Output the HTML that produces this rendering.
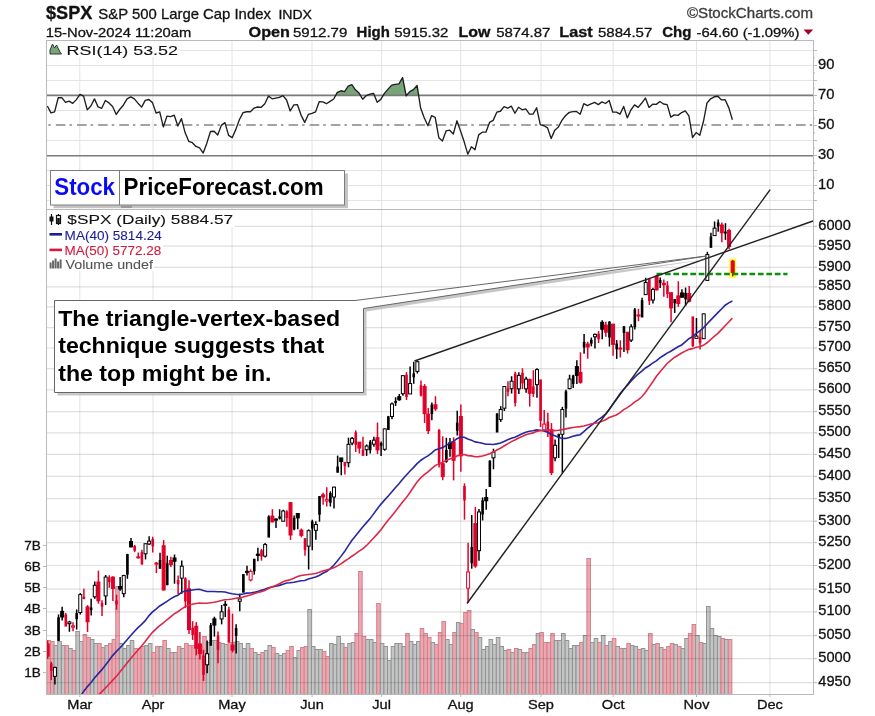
<!DOCTYPE html><html><head><meta charset="utf-8"><style>html,body{margin:0;padding:0;background:#fff;}svg{display:block;will-change:transform;}text{font-family:"Liberation Sans",sans-serif;stroke:currentColor;stroke-width:0.3px;paint-order:stroke;}</style></head><body>
<svg width="875" height="716" viewBox="0 0 875 716">
<rect x="0" y="0" width="875" height="716" fill="#ffffff"/>
<line x1="46" y1="200.5" x2="813" y2="200.5" stroke="#e4e4e4" stroke-width="1"/>
<line x1="46" y1="185.5" x2="813" y2="185.5" stroke="#e4e4e4" stroke-width="1"/>
<line x1="46" y1="170.5" x2="813" y2="170.5" stroke="#e4e4e4" stroke-width="1"/>
<line x1="46" y1="140.5" x2="813" y2="140.5" stroke="#e4e4e4" stroke-width="1"/>
<line x1="46" y1="110.5" x2="813" y2="110.5" stroke="#e4e4e4" stroke-width="1"/>
<line x1="46" y1="80.5" x2="813" y2="80.5" stroke="#e4e4e4" stroke-width="1"/>
<line x1="46" y1="65.5" x2="813" y2="65.5" stroke="#e4e4e4" stroke-width="1"/>
<line x1="46" y1="50.5" x2="813" y2="50.5" stroke="#e4e4e4" stroke-width="1"/>
<line x1="79.8" y1="40" x2="79.8" y2="209" stroke="#e4e4e4" stroke-width="1"/>
<line x1="79.8" y1="209" x2="79.8" y2="694" stroke="#e4e4e4" stroke-width="1"/>
<line x1="153" y1="40" x2="153" y2="209" stroke="#e4e4e4" stroke-width="1"/>
<line x1="153" y1="209" x2="153" y2="694" stroke="#e4e4e4" stroke-width="1"/>
<line x1="232" y1="40" x2="232" y2="209" stroke="#e4e4e4" stroke-width="1"/>
<line x1="232" y1="209" x2="232" y2="694" stroke="#e4e4e4" stroke-width="1"/>
<line x1="312" y1="40" x2="312" y2="209" stroke="#e4e4e4" stroke-width="1"/>
<line x1="312" y1="209" x2="312" y2="694" stroke="#e4e4e4" stroke-width="1"/>
<line x1="381.6" y1="40" x2="381.6" y2="209" stroke="#e4e4e4" stroke-width="1"/>
<line x1="381.6" y1="209" x2="381.6" y2="694" stroke="#e4e4e4" stroke-width="1"/>
<line x1="460.7" y1="40" x2="460.7" y2="209" stroke="#e4e4e4" stroke-width="1"/>
<line x1="460.7" y1="209" x2="460.7" y2="694" stroke="#e4e4e4" stroke-width="1"/>
<line x1="541" y1="40" x2="541" y2="209" stroke="#e4e4e4" stroke-width="1"/>
<line x1="541" y1="209" x2="541" y2="694" stroke="#e4e4e4" stroke-width="1"/>
<line x1="613.2" y1="40" x2="613.2" y2="209" stroke="#e4e4e4" stroke-width="1"/>
<line x1="613.2" y1="209" x2="613.2" y2="694" stroke="#e4e4e4" stroke-width="1"/>
<line x1="696.5" y1="40" x2="696.5" y2="209" stroke="#e4e4e4" stroke-width="1"/>
<line x1="696.5" y1="209" x2="696.5" y2="694" stroke="#e4e4e4" stroke-width="1"/>
<line x1="769.9" y1="40" x2="769.9" y2="209" stroke="#e4e4e4" stroke-width="1"/>
<line x1="769.9" y1="209" x2="769.9" y2="694" stroke="#e4e4e4" stroke-width="1"/>
<clipPath id="c70"><rect x="46" y="40" width="767" height="55"/></clipPath>
<polygon clip-path="url(#c70)" points="47.36,105.96 50.98,112.89 54.61,111.86 58.23,97.79 61.86,97.59 65.48,102.29 69.11,101.16 72.73,103.36 76.36,99.62 79.98,94.45 83.6,96.2 87.23,109.91 90.85,105.94 94.48,98.9 98.1,106.97 101.73,108.32 105.35,100.48 108.98,102.92 112.6,106.59 116.23,114.45 119.85,109.25 123.47,104.96 127.1,98.91 130.72,96.87 134.35,98.85 137.97,103.18 141.6,107.1 145.22,100.35 148.85,99.53 152.47,102.63 156.09,112.98 159.72,111.92 163.34,126.92 166.97,116.14 170.59,116.57 174.22,115.18 177.84,126.05 181.47,118.66 185.09,132.56 188.72,141.35 192.34,142.71 195.96,146.46 199.59,147.85 203.21,153.06 206.84,143.15 210.46,131.49 214.09,131.29 217.71,134.94 221.34,125.37 224.96,122.6 228.58,135.32 232.21,137.68 235.83,129.39 239.46,119.56 243.08,112.6 246.71,111.73 250.33,111.73 253.96,108.16 257.58,107 261.21,107.3 264.83,103.67 268.45,96.04 272.08,98.82 275.7,98.05 279.33,97.41 282.95,95.63 286.58,100.02 290.2,110.98 293.83,104.88 297.45,104.67 301.07,115.08 304.7,122.42 308.32,114.41 311.95,113.35 315.57,111.88 319.2,101.65 322.82,101.95 326.45,103.7 330.07,101.42 333.7,99.05 337.32,92.43 340.94,90.78 344.57,91.54 348.19,86.23 351.82,84.65 355.44,89.85 359.07,93.05 362.69,99.23 366.32,95.6 369.94,94.19 373.56,93.36 377.19,102.3 380.81,99.39 384.44,93.36 388.06,89.11 391.69,85.12 395.31,84.41 398.94,83.87 402.56,77.5 406.19,95.81 409.81,91.63 413.43,89.62 417.06,85.45 420.68,108.27 424.31,118.01 427.93,125.71 431.56,115.73 435.18,117.44 438.81,137.65 442.43,141.02 446.06,130.91 449.68,130.2 453.3,134.01 456.93,120.81 460.55,131.08 464.18,141.84 467.8,154.17 471.43,146.76 475.05,149.67 478.68,134.91 482.3,132.19 485.92,132.16 489.55,122.42 493.17,120.35 496.8,112.22 500.42,111.27 504.05,106.68 507.67,108.21 511.3,106.1 514.92,113.25 518.54,107.27 522.17,109.82 525.79,108.94 529.42,114.05 533.04,114.09 536.67,107.77 540.29,124.69 543.92,125.77 547.54,127.88 551.17,138.59 554.79,130.14 558.41,127.05 562.04,120.08 565.66,115.54 569.29,112.38 572.91,111.63 576.54,111.46 580.16,114.21 583.79,103.72 587.41,105.65 591.03,103.96 594.66,102.43 598.28,104.6 601.91,101.91 605.53,103.5 609.16,100.52 612.78,112.18 616.41,112.07 620.03,114.15 623.66,106.48 627.28,117.88 630.9,109.99 634.53,104.9 638.15,107.38 641.78,103.04 645.4,98.02 649.03,107.41 652.65,104.13 656.28,104.35 659.9,101.45 663.52,103.99 667.15,104.68 670.77,117.05 674.4,114.95 678.02,115.35 681.65,112.55 685.27,110.84 688.9,115.92 692.52,137.48 696.15,132.56 699.77,135.27 703.39,121.78 707.02,102.95 710.64,98.8 714.27,96.79 717.89,96.26 721.52,99.92 725.14,99.76 728.77,107.63 732.39,119.72 732.39,95 47.36,95" fill="#78a578"/>
<line x1="46" y1="95.4" x2="813" y2="95.4" stroke="#7a7a7a" stroke-width="1.6"/>
<line x1="46" y1="155.8" x2="813" y2="155.8" stroke="#7a7a7a" stroke-width="1.6"/>
<line x1="46" y1="125" x2="813" y2="125" stroke="#858585" stroke-width="1.7" stroke-dasharray="9.6,4,2.5,5.05" stroke-dashoffset="11.3"/>
<polyline points="47.36,105.96 50.98,112.89 54.61,111.86 58.23,97.79 61.86,97.59 65.48,102.29 69.11,101.16 72.73,103.36 76.36,99.62 79.98,94.45 83.6,96.2 87.23,109.91 90.85,105.94 94.48,98.9 98.1,106.97 101.73,108.32 105.35,100.48 108.98,102.92 112.6,106.59 116.23,114.45 119.85,109.25 123.47,104.96 127.1,98.91 130.72,96.87 134.35,98.85 137.97,103.18 141.6,107.1 145.22,100.35 148.85,99.53 152.47,102.63 156.09,112.98 159.72,111.92 163.34,126.92 166.97,116.14 170.59,116.57 174.22,115.18 177.84,126.05 181.47,118.66 185.09,132.56 188.72,141.35 192.34,142.71 195.96,146.46 199.59,147.85 203.21,153.06 206.84,143.15 210.46,131.49 214.09,131.29 217.71,134.94 221.34,125.37 224.96,122.6 228.58,135.32 232.21,137.68 235.83,129.39 239.46,119.56 243.08,112.6 246.71,111.73 250.33,111.73 253.96,108.16 257.58,107 261.21,107.3 264.83,103.67 268.45,96.04 272.08,98.82 275.7,98.05 279.33,97.41 282.95,95.63 286.58,100.02 290.2,110.98 293.83,104.88 297.45,104.67 301.07,115.08 304.7,122.42 308.32,114.41 311.95,113.35 315.57,111.88 319.2,101.65 322.82,101.95 326.45,103.7 330.07,101.42 333.7,99.05 337.32,92.43 340.94,90.78 344.57,91.54 348.19,86.23 351.82,84.65 355.44,89.85 359.07,93.05 362.69,99.23 366.32,95.6 369.94,94.19 373.56,93.36 377.19,102.3 380.81,99.39 384.44,93.36 388.06,89.11 391.69,85.12 395.31,84.41 398.94,83.87 402.56,77.5 406.19,95.81 409.81,91.63 413.43,89.62 417.06,85.45 420.68,108.27 424.31,118.01 427.93,125.71 431.56,115.73 435.18,117.44 438.81,137.65 442.43,141.02 446.06,130.91 449.68,130.2 453.3,134.01 456.93,120.81 460.55,131.08 464.18,141.84 467.8,154.17 471.43,146.76 475.05,149.67 478.68,134.91 482.3,132.19 485.92,132.16 489.55,122.42 493.17,120.35 496.8,112.22 500.42,111.27 504.05,106.68 507.67,108.21 511.3,106.1 514.92,113.25 518.54,107.27 522.17,109.82 525.79,108.94 529.42,114.05 533.04,114.09 536.67,107.77 540.29,124.69 543.92,125.77 547.54,127.88 551.17,138.59 554.79,130.14 558.41,127.05 562.04,120.08 565.66,115.54 569.29,112.38 572.91,111.63 576.54,111.46 580.16,114.21 583.79,103.72 587.41,105.65 591.03,103.96 594.66,102.43 598.28,104.6 601.91,101.91 605.53,103.5 609.16,100.52 612.78,112.18 616.41,112.07 620.03,114.15 623.66,106.48 627.28,117.88 630.9,109.99 634.53,104.9 638.15,107.38 641.78,103.04 645.4,98.02 649.03,107.41 652.65,104.13 656.28,104.35 659.9,101.45 663.52,103.99 667.15,104.68 670.77,117.05 674.4,114.95 678.02,115.35 681.65,112.55 685.27,110.84 688.9,115.92 692.52,137.48 696.15,132.56 699.77,135.27 703.39,121.78 707.02,102.95 710.64,98.8 714.27,96.79 717.89,96.26 721.52,99.92 725.14,99.76 728.77,107.63 732.39,119.72" fill="none" stroke="#1e1e1e" stroke-width="1.35" stroke-linejoin="round"/>
<rect x="46.5" y="40.5" width="767" height="169" fill="none" stroke="#b9b9b9" stroke-width="1"/>
<line x1="813" y1="200.5" x2="817" y2="200.5" stroke="#b9b9b9"/>
<line x1="813" y1="193" x2="815" y2="193" stroke="#b9b9b9"/>
<line x1="813" y1="185.5" x2="817" y2="185.5" stroke="#b9b9b9"/>
<line x1="813" y1="178" x2="815" y2="178" stroke="#b9b9b9"/>
<line x1="813" y1="170.5" x2="817" y2="170.5" stroke="#b9b9b9"/>
<line x1="813" y1="163" x2="815" y2="163" stroke="#b9b9b9"/>
<line x1="813" y1="155.5" x2="817" y2="155.5" stroke="#b9b9b9"/>
<line x1="813" y1="148" x2="815" y2="148" stroke="#b9b9b9"/>
<line x1="813" y1="140.5" x2="817" y2="140.5" stroke="#b9b9b9"/>
<line x1="813" y1="133" x2="815" y2="133" stroke="#b9b9b9"/>
<line x1="813" y1="125.5" x2="817" y2="125.5" stroke="#b9b9b9"/>
<line x1="813" y1="118" x2="815" y2="118" stroke="#b9b9b9"/>
<line x1="813" y1="110.5" x2="817" y2="110.5" stroke="#b9b9b9"/>
<line x1="813" y1="103" x2="815" y2="103" stroke="#b9b9b9"/>
<line x1="813" y1="95.5" x2="817" y2="95.5" stroke="#b9b9b9"/>
<line x1="813" y1="88" x2="815" y2="88" stroke="#b9b9b9"/>
<line x1="813" y1="80.5" x2="817" y2="80.5" stroke="#b9b9b9"/>
<line x1="813" y1="73" x2="815" y2="73" stroke="#b9b9b9"/>
<line x1="813" y1="65.5" x2="817" y2="65.5" stroke="#b9b9b9"/>
<line x1="813" y1="58" x2="815" y2="58" stroke="#b9b9b9"/>
<line x1="813" y1="50.5" x2="817" y2="50.5" stroke="#b9b9b9"/>
<text x="818" y="68.5" font-size="14" fill="#111" color="#111" textLength="16.4" lengthAdjust="spacingAndGlyphs">90</text>
<text x="818" y="98.5" font-size="14" fill="#111" color="#111" textLength="16.4" lengthAdjust="spacingAndGlyphs">70</text>
<text x="818" y="128.5" font-size="14" fill="#111" color="#111" textLength="16.4" lengthAdjust="spacingAndGlyphs">50</text>
<text x="818" y="158.5" font-size="14" fill="#111" color="#111" textLength="16.4" lengthAdjust="spacingAndGlyphs">30</text>
<text x="818" y="188.5" font-size="14" fill="#111" color="#111" textLength="16.4" lengthAdjust="spacingAndGlyphs">10</text>
<clipPath id="cpin"><rect x="47" y="210" width="766" height="484"/></clipPath>
<g clip-path="url(#cpin)">
<rect x="46.86" y="640.5" width="3.6" height="54" fill="#eca8b0" stroke="#d6808e" stroke-width="1"/>
<rect x="50.48" y="641.5" width="3.6" height="53" fill="#eca8b0" stroke="#d6808e" stroke-width="1"/>
<rect x="54.11" y="645.5" width="3.6" height="49" fill="#c4c5c5" stroke="#939393" stroke-width="1"/>
<rect x="57.73" y="641.5" width="3.6" height="53" fill="#c4c5c5" stroke="#939393" stroke-width="1"/>
<rect x="61.36" y="645.5" width="3.6" height="49" fill="#c4c5c5" stroke="#939393" stroke-width="1"/>
<rect x="64.98" y="645.5" width="3.6" height="49" fill="#eca8b0" stroke="#d6808e" stroke-width="1"/>
<rect x="68.61" y="648.5" width="3.6" height="46" fill="#c4c5c5" stroke="#939393" stroke-width="1"/>
<rect x="72.23" y="650.5" width="3.6" height="44" fill="#eca8b0" stroke="#d6808e" stroke-width="1"/>
<rect x="75.86" y="631.5" width="3.6" height="63" fill="#c4c5c5" stroke="#939393" stroke-width="1"/>
<rect x="79.48" y="641.5" width="3.6" height="53" fill="#c4c5c5" stroke="#939393" stroke-width="1"/>
<rect x="83.1" y="634.5" width="3.6" height="60" fill="#eca8b0" stroke="#d6808e" stroke-width="1"/>
<rect x="86.73" y="637.5" width="3.6" height="57" fill="#eca8b0" stroke="#d6808e" stroke-width="1"/>
<rect x="90.35" y="639.5" width="3.6" height="55" fill="#c4c5c5" stroke="#939393" stroke-width="1"/>
<rect x="93.98" y="643.5" width="3.6" height="51" fill="#c4c5c5" stroke="#939393" stroke-width="1"/>
<rect x="97.6" y="643.5" width="3.6" height="51" fill="#eca8b0" stroke="#d6808e" stroke-width="1"/>
<rect x="101.23" y="647.5" width="3.6" height="47" fill="#eca8b0" stroke="#d6808e" stroke-width="1"/>
<rect x="104.85" y="645.5" width="3.6" height="49" fill="#c4c5c5" stroke="#939393" stroke-width="1"/>
<rect x="108.48" y="643.5" width="3.6" height="51" fill="#eca8b0" stroke="#d6808e" stroke-width="1"/>
<rect x="112.1" y="639.5" width="3.6" height="55" fill="#eca8b0" stroke="#d6808e" stroke-width="1"/>
<rect x="115.73" y="586.5" width="3.6" height="108" fill="#eca8b0" stroke="#d6808e" stroke-width="1"/>
<rect x="119.35" y="643.5" width="3.6" height="51" fill="#c4c5c5" stroke="#939393" stroke-width="1"/>
<rect x="122.97" y="648.5" width="3.6" height="46" fill="#c4c5c5" stroke="#939393" stroke-width="1"/>
<rect x="126.6" y="645.5" width="3.6" height="49" fill="#c4c5c5" stroke="#939393" stroke-width="1"/>
<rect x="130.22" y="640.5" width="3.6" height="54" fill="#c4c5c5" stroke="#939393" stroke-width="1"/>
<rect x="133.85" y="648.5" width="3.6" height="46" fill="#eca8b0" stroke="#d6808e" stroke-width="1"/>
<rect x="137.47" y="648.5" width="3.6" height="46" fill="#eca8b0" stroke="#d6808e" stroke-width="1"/>
<rect x="141.1" y="646.5" width="3.6" height="48" fill="#eca8b0" stroke="#d6808e" stroke-width="1"/>
<rect x="144.72" y="645.5" width="3.6" height="49" fill="#c4c5c5" stroke="#939393" stroke-width="1"/>
<rect x="148.35" y="643.5" width="3.6" height="51" fill="#c4c5c5" stroke="#939393" stroke-width="1"/>
<rect x="151.97" y="652.5" width="3.6" height="42" fill="#eca8b0" stroke="#d6808e" stroke-width="1"/>
<rect x="155.59" y="646.5" width="3.6" height="48" fill="#eca8b0" stroke="#d6808e" stroke-width="1"/>
<rect x="159.22" y="646.5" width="3.6" height="48" fill="#c4c5c5" stroke="#939393" stroke-width="1"/>
<rect x="162.84" y="640.5" width="3.6" height="54" fill="#eca8b0" stroke="#d6808e" stroke-width="1"/>
<rect x="166.47" y="648.5" width="3.6" height="46" fill="#c4c5c5" stroke="#939393" stroke-width="1"/>
<rect x="170.09" y="652.5" width="3.6" height="42" fill="#eca8b0" stroke="#d6808e" stroke-width="1"/>
<rect x="173.72" y="652.5" width="3.6" height="42" fill="#c4c5c5" stroke="#939393" stroke-width="1"/>
<rect x="177.34" y="646.5" width="3.6" height="48" fill="#eca8b0" stroke="#d6808e" stroke-width="1"/>
<rect x="180.97" y="648.5" width="3.6" height="46" fill="#c4c5c5" stroke="#939393" stroke-width="1"/>
<rect x="184.59" y="643.5" width="3.6" height="51" fill="#eca8b0" stroke="#d6808e" stroke-width="1"/>
<rect x="188.22" y="645.5" width="3.6" height="49" fill="#eca8b0" stroke="#d6808e" stroke-width="1"/>
<rect x="191.84" y="645.5" width="3.6" height="49" fill="#eca8b0" stroke="#d6808e" stroke-width="1"/>
<rect x="195.46" y="645.5" width="3.6" height="49" fill="#eca8b0" stroke="#d6808e" stroke-width="1"/>
<rect x="199.09" y="645.5" width="3.6" height="49" fill="#eca8b0" stroke="#d6808e" stroke-width="1"/>
<rect x="202.71" y="636.5" width="3.6" height="58" fill="#eca8b0" stroke="#d6808e" stroke-width="1"/>
<rect x="206.34" y="642.5" width="3.6" height="52" fill="#c4c5c5" stroke="#939393" stroke-width="1"/>
<rect x="209.96" y="640.5" width="3.6" height="54" fill="#c4c5c5" stroke="#939393" stroke-width="1"/>
<rect x="213.59" y="640.5" width="3.6" height="54" fill="#c4c5c5" stroke="#939393" stroke-width="1"/>
<rect x="217.21" y="642.5" width="3.6" height="52" fill="#eca8b0" stroke="#d6808e" stroke-width="1"/>
<rect x="220.84" y="643.5" width="3.6" height="51" fill="#c4c5c5" stroke="#939393" stroke-width="1"/>
<rect x="224.46" y="644.5" width="3.6" height="50" fill="#c4c5c5" stroke="#939393" stroke-width="1"/>
<rect x="228.08" y="642.5" width="3.6" height="52" fill="#eca8b0" stroke="#d6808e" stroke-width="1"/>
<rect x="231.71" y="642.5" width="3.6" height="52" fill="#eca8b0" stroke="#d6808e" stroke-width="1"/>
<rect x="235.33" y="641.5" width="3.6" height="53" fill="#c4c5c5" stroke="#939393" stroke-width="1"/>
<rect x="238.96" y="643.5" width="3.6" height="51" fill="#c4c5c5" stroke="#939393" stroke-width="1"/>
<rect x="242.58" y="648.5" width="3.6" height="46" fill="#c4c5c5" stroke="#939393" stroke-width="1"/>
<rect x="246.21" y="643.5" width="3.6" height="51" fill="#c4c5c5" stroke="#939393" stroke-width="1"/>
<rect x="249.83" y="648.5" width="3.6" height="46" fill="#eca8b0" stroke="#d6808e" stroke-width="1"/>
<rect x="253.46" y="652.5" width="3.6" height="42" fill="#c4c5c5" stroke="#939393" stroke-width="1"/>
<rect x="257.08" y="654.5" width="3.6" height="40" fill="#c4c5c5" stroke="#939393" stroke-width="1"/>
<rect x="260.71" y="652.5" width="3.6" height="42" fill="#eca8b0" stroke="#d6808e" stroke-width="1"/>
<rect x="264.33" y="650.5" width="3.6" height="44" fill="#c4c5c5" stroke="#939393" stroke-width="1"/>
<rect x="267.95" y="645.5" width="3.6" height="49" fill="#c4c5c5" stroke="#939393" stroke-width="1"/>
<rect x="271.58" y="647.5" width="3.6" height="47" fill="#eca8b0" stroke="#d6808e" stroke-width="1"/>
<rect x="275.2" y="653.5" width="3.6" height="41" fill="#c4c5c5" stroke="#939393" stroke-width="1"/>
<rect x="278.83" y="655.5" width="3.6" height="39" fill="#c4c5c5" stroke="#939393" stroke-width="1"/>
<rect x="282.45" y="653.5" width="3.6" height="41" fill="#c4c5c5" stroke="#939393" stroke-width="1"/>
<rect x="286.08" y="650.5" width="3.6" height="44" fill="#eca8b0" stroke="#d6808e" stroke-width="1"/>
<rect x="289.7" y="646.5" width="3.6" height="48" fill="#eca8b0" stroke="#d6808e" stroke-width="1"/>
<rect x="293.33" y="657.5" width="3.6" height="37" fill="#c4c5c5" stroke="#939393" stroke-width="1"/>
<rect x="296.95" y="650.5" width="3.6" height="44" fill="#c4c5c5" stroke="#939393" stroke-width="1"/>
<rect x="300.57" y="647.5" width="3.6" height="47" fill="#eca8b0" stroke="#d6808e" stroke-width="1"/>
<rect x="304.2" y="646.5" width="3.6" height="48" fill="#eca8b0" stroke="#d6808e" stroke-width="1"/>
<rect x="307.82" y="609.5" width="3.6" height="85" fill="#c4c5c5" stroke="#939393" stroke-width="1"/>
<rect x="311.45" y="646.5" width="3.6" height="48" fill="#c4c5c5" stroke="#939393" stroke-width="1"/>
<rect x="315.07" y="649.5" width="3.6" height="45" fill="#c4c5c5" stroke="#939393" stroke-width="1"/>
<rect x="318.7" y="649.5" width="3.6" height="45" fill="#c4c5c5" stroke="#939393" stroke-width="1"/>
<rect x="322.32" y="651.5" width="3.6" height="43" fill="#eca8b0" stroke="#d6808e" stroke-width="1"/>
<rect x="325.95" y="656.5" width="3.6" height="38" fill="#eca8b0" stroke="#d6808e" stroke-width="1"/>
<rect x="329.57" y="643.5" width="3.6" height="51" fill="#c4c5c5" stroke="#939393" stroke-width="1"/>
<rect x="333.2" y="644.5" width="3.6" height="50" fill="#c4c5c5" stroke="#939393" stroke-width="1"/>
<rect x="336.82" y="636.5" width="3.6" height="58" fill="#c4c5c5" stroke="#939393" stroke-width="1"/>
<rect x="340.44" y="643.5" width="3.6" height="51" fill="#c4c5c5" stroke="#939393" stroke-width="1"/>
<rect x="344.07" y="647.5" width="3.6" height="47" fill="#eca8b0" stroke="#d6808e" stroke-width="1"/>
<rect x="347.69" y="643.5" width="3.6" height="51" fill="#c4c5c5" stroke="#939393" stroke-width="1"/>
<rect x="351.32" y="642.5" width="3.6" height="52" fill="#c4c5c5" stroke="#939393" stroke-width="1"/>
<rect x="354.94" y="633.5" width="3.6" height="61" fill="#eca8b0" stroke="#d6808e" stroke-width="1"/>
<rect x="358.57" y="571.5" width="3.6" height="123" fill="#eca8b0" stroke="#d6808e" stroke-width="1"/>
<rect x="362.19" y="636.5" width="3.6" height="58" fill="#eca8b0" stroke="#d6808e" stroke-width="1"/>
<rect x="365.82" y="639.5" width="3.6" height="55" fill="#c4c5c5" stroke="#939393" stroke-width="1"/>
<rect x="369.44" y="639.5" width="3.6" height="55" fill="#c4c5c5" stroke="#939393" stroke-width="1"/>
<rect x="373.06" y="642.5" width="3.6" height="52" fill="#c4c5c5" stroke="#939393" stroke-width="1"/>
<rect x="376.69" y="603.5" width="3.6" height="91" fill="#eca8b0" stroke="#d6808e" stroke-width="1"/>
<rect x="380.31" y="643.5" width="3.6" height="51" fill="#c4c5c5" stroke="#939393" stroke-width="1"/>
<rect x="383.94" y="646.5" width="3.6" height="48" fill="#c4c5c5" stroke="#939393" stroke-width="1"/>
<rect x="387.56" y="660.5" width="3.6" height="34" fill="#c4c5c5" stroke="#939393" stroke-width="1"/>
<rect x="391.19" y="646.5" width="3.6" height="48" fill="#c4c5c5" stroke="#939393" stroke-width="1"/>
<rect x="394.81" y="643.5" width="3.6" height="51" fill="#c4c5c5" stroke="#939393" stroke-width="1"/>
<rect x="398.44" y="643.5" width="3.6" height="51" fill="#c4c5c5" stroke="#939393" stroke-width="1"/>
<rect x="402.06" y="646.5" width="3.6" height="48" fill="#c4c5c5" stroke="#939393" stroke-width="1"/>
<rect x="405.69" y="633.5" width="3.6" height="61" fill="#eca8b0" stroke="#d6808e" stroke-width="1"/>
<rect x="409.31" y="641.5" width="3.6" height="53" fill="#c4c5c5" stroke="#939393" stroke-width="1"/>
<rect x="412.93" y="644.5" width="3.6" height="50" fill="#c4c5c5" stroke="#939393" stroke-width="1"/>
<rect x="416.56" y="641.5" width="3.6" height="53" fill="#c4c5c5" stroke="#939393" stroke-width="1"/>
<rect x="420.18" y="628.5" width="3.6" height="66" fill="#eca8b0" stroke="#d6808e" stroke-width="1"/>
<rect x="423.81" y="633.5" width="3.6" height="61" fill="#eca8b0" stroke="#d6808e" stroke-width="1"/>
<rect x="427.43" y="637.5" width="3.6" height="57" fill="#eca8b0" stroke="#d6808e" stroke-width="1"/>
<rect x="431.06" y="642.5" width="3.6" height="52" fill="#c4c5c5" stroke="#939393" stroke-width="1"/>
<rect x="434.68" y="644.5" width="3.6" height="50" fill="#eca8b0" stroke="#d6808e" stroke-width="1"/>
<rect x="438.31" y="632.5" width="3.6" height="62" fill="#eca8b0" stroke="#d6808e" stroke-width="1"/>
<rect x="441.93" y="621.5" width="3.6" height="73" fill="#eca8b0" stroke="#d6808e" stroke-width="1"/>
<rect x="445.56" y="639.5" width="3.6" height="55" fill="#c4c5c5" stroke="#939393" stroke-width="1"/>
<rect x="449.18" y="644.5" width="3.6" height="50" fill="#c4c5c5" stroke="#939393" stroke-width="1"/>
<rect x="452.8" y="632.5" width="3.6" height="62" fill="#eca8b0" stroke="#d6808e" stroke-width="1"/>
<rect x="456.43" y="622.5" width="3.6" height="72" fill="#c4c5c5" stroke="#939393" stroke-width="1"/>
<rect x="460.05" y="623.5" width="3.6" height="71" fill="#eca8b0" stroke="#d6808e" stroke-width="1"/>
<rect x="463.68" y="612.5" width="3.6" height="82" fill="#eca8b0" stroke="#d6808e" stroke-width="1"/>
<rect x="467.3" y="610.5" width="3.6" height="84" fill="#eca8b0" stroke="#d6808e" stroke-width="1"/>
<rect x="470.93" y="629.5" width="3.6" height="65" fill="#c4c5c5" stroke="#939393" stroke-width="1"/>
<rect x="474.55" y="632.5" width="3.6" height="62" fill="#eca8b0" stroke="#d6808e" stroke-width="1"/>
<rect x="478.18" y="637.5" width="3.6" height="57" fill="#c4c5c5" stroke="#939393" stroke-width="1"/>
<rect x="481.8" y="649.5" width="3.6" height="45" fill="#c4c5c5" stroke="#939393" stroke-width="1"/>
<rect x="485.42" y="646.5" width="3.6" height="48" fill="#c4c5c5" stroke="#939393" stroke-width="1"/>
<rect x="489.05" y="639.5" width="3.6" height="55" fill="#c4c5c5" stroke="#939393" stroke-width="1"/>
<rect x="492.67" y="644.5" width="3.6" height="50" fill="#c4c5c5" stroke="#939393" stroke-width="1"/>
<rect x="496.3" y="637.5" width="3.6" height="57" fill="#c4c5c5" stroke="#939393" stroke-width="1"/>
<rect x="499.92" y="646.5" width="3.6" height="48" fill="#c4c5c5" stroke="#939393" stroke-width="1"/>
<rect x="503.55" y="650.5" width="3.6" height="44" fill="#c4c5c5" stroke="#939393" stroke-width="1"/>
<rect x="507.17" y="649.5" width="3.6" height="45" fill="#eca8b0" stroke="#d6808e" stroke-width="1"/>
<rect x="510.8" y="652.5" width="3.6" height="42" fill="#c4c5c5" stroke="#939393" stroke-width="1"/>
<rect x="514.42" y="648.5" width="3.6" height="46" fill="#eca8b0" stroke="#d6808e" stroke-width="1"/>
<rect x="518.04" y="649.5" width="3.6" height="45" fill="#c4c5c5" stroke="#939393" stroke-width="1"/>
<rect x="521.67" y="652.5" width="3.6" height="42" fill="#eca8b0" stroke="#d6808e" stroke-width="1"/>
<rect x="525.29" y="652.5" width="3.6" height="42" fill="#c4c5c5" stroke="#939393" stroke-width="1"/>
<rect x="528.92" y="648.5" width="3.6" height="46" fill="#eca8b0" stroke="#d6808e" stroke-width="1"/>
<rect x="532.54" y="644.5" width="3.6" height="50" fill="#eca8b0" stroke="#d6808e" stroke-width="1"/>
<rect x="536.17" y="633.5" width="3.6" height="61" fill="#c4c5c5" stroke="#939393" stroke-width="1"/>
<rect x="539.79" y="632.5" width="3.6" height="62" fill="#eca8b0" stroke="#d6808e" stroke-width="1"/>
<rect x="543.42" y="642.5" width="3.6" height="52" fill="#eca8b0" stroke="#d6808e" stroke-width="1"/>
<rect x="547.04" y="642.5" width="3.6" height="52" fill="#eca8b0" stroke="#d6808e" stroke-width="1"/>
<rect x="550.67" y="633.5" width="3.6" height="61" fill="#eca8b0" stroke="#d6808e" stroke-width="1"/>
<rect x="554.29" y="640.5" width="3.6" height="54" fill="#c4c5c5" stroke="#939393" stroke-width="1"/>
<rect x="557.91" y="640.5" width="3.6" height="54" fill="#c4c5c5" stroke="#939393" stroke-width="1"/>
<rect x="561.54" y="633.5" width="3.6" height="61" fill="#c4c5c5" stroke="#939393" stroke-width="1"/>
<rect x="565.16" y="640.5" width="3.6" height="54" fill="#c4c5c5" stroke="#939393" stroke-width="1"/>
<rect x="568.79" y="648.5" width="3.6" height="46" fill="#c4c5c5" stroke="#939393" stroke-width="1"/>
<rect x="572.41" y="645.5" width="3.6" height="49" fill="#c4c5c5" stroke="#939393" stroke-width="1"/>
<rect x="576.04" y="645.5" width="3.6" height="49" fill="#c4c5c5" stroke="#939393" stroke-width="1"/>
<rect x="579.66" y="642.5" width="3.6" height="52" fill="#eca8b0" stroke="#d6808e" stroke-width="1"/>
<rect x="583.29" y="635.5" width="3.6" height="59" fill="#c4c5c5" stroke="#939393" stroke-width="1"/>
<rect x="586.91" y="558.5" width="3.6" height="136" fill="#eca8b0" stroke="#d6808e" stroke-width="1"/>
<rect x="590.53" y="642.5" width="3.6" height="52" fill="#c4c5c5" stroke="#939393" stroke-width="1"/>
<rect x="594.16" y="638.5" width="3.6" height="56" fill="#c4c5c5" stroke="#939393" stroke-width="1"/>
<rect x="597.78" y="642.5" width="3.6" height="52" fill="#eca8b0" stroke="#d6808e" stroke-width="1"/>
<rect x="601.41" y="635.5" width="3.6" height="59" fill="#c4c5c5" stroke="#939393" stroke-width="1"/>
<rect x="605.03" y="645.5" width="3.6" height="49" fill="#eca8b0" stroke="#d6808e" stroke-width="1"/>
<rect x="608.66" y="641.5" width="3.6" height="53" fill="#c4c5c5" stroke="#939393" stroke-width="1"/>
<rect x="612.28" y="638.5" width="3.6" height="56" fill="#eca8b0" stroke="#d6808e" stroke-width="1"/>
<rect x="615.91" y="646.5" width="3.6" height="48" fill="#c4c5c5" stroke="#939393" stroke-width="1"/>
<rect x="619.53" y="648.5" width="3.6" height="46" fill="#eca8b0" stroke="#d6808e" stroke-width="1"/>
<rect x="623.16" y="648.5" width="3.6" height="46" fill="#c4c5c5" stroke="#939393" stroke-width="1"/>
<rect x="626.78" y="643.5" width="3.6" height="51" fill="#eca8b0" stroke="#d6808e" stroke-width="1"/>
<rect x="630.4" y="645.5" width="3.6" height="49" fill="#c4c5c5" stroke="#939393" stroke-width="1"/>
<rect x="634.03" y="646.5" width="3.6" height="48" fill="#c4c5c5" stroke="#939393" stroke-width="1"/>
<rect x="637.65" y="649.5" width="3.6" height="45" fill="#eca8b0" stroke="#d6808e" stroke-width="1"/>
<rect x="641.28" y="648.5" width="3.6" height="46" fill="#c4c5c5" stroke="#939393" stroke-width="1"/>
<rect x="644.9" y="650.5" width="3.6" height="44" fill="#c4c5c5" stroke="#939393" stroke-width="1"/>
<rect x="648.53" y="633.5" width="3.6" height="61" fill="#eca8b0" stroke="#d6808e" stroke-width="1"/>
<rect x="652.15" y="644.5" width="3.6" height="50" fill="#c4c5c5" stroke="#939393" stroke-width="1"/>
<rect x="655.78" y="643.5" width="3.6" height="51" fill="#eca8b0" stroke="#d6808e" stroke-width="1"/>
<rect x="659.4" y="647.5" width="3.6" height="47" fill="#c4c5c5" stroke="#939393" stroke-width="1"/>
<rect x="663.02" y="649.5" width="3.6" height="45" fill="#eca8b0" stroke="#d6808e" stroke-width="1"/>
<rect x="666.65" y="646.5" width="3.6" height="48" fill="#eca8b0" stroke="#d6808e" stroke-width="1"/>
<rect x="670.27" y="643.5" width="3.6" height="51" fill="#eca8b0" stroke="#d6808e" stroke-width="1"/>
<rect x="673.9" y="644.5" width="3.6" height="50" fill="#c4c5c5" stroke="#939393" stroke-width="1"/>
<rect x="677.52" y="646.5" width="3.6" height="48" fill="#eca8b0" stroke="#d6808e" stroke-width="1"/>
<rect x="681.15" y="648.5" width="3.6" height="46" fill="#c4c5c5" stroke="#939393" stroke-width="1"/>
<rect x="684.77" y="638.5" width="3.6" height="56" fill="#c4c5c5" stroke="#939393" stroke-width="1"/>
<rect x="688.4" y="633.5" width="3.6" height="61" fill="#eca8b0" stroke="#d6808e" stroke-width="1"/>
<rect x="692.02" y="624.5" width="3.6" height="70" fill="#eca8b0" stroke="#d6808e" stroke-width="1"/>
<rect x="695.65" y="635.5" width="3.6" height="59" fill="#c4c5c5" stroke="#939393" stroke-width="1"/>
<rect x="699.27" y="642.5" width="3.6" height="52" fill="#eca8b0" stroke="#d6808e" stroke-width="1"/>
<rect x="702.89" y="643.5" width="3.6" height="51" fill="#c4c5c5" stroke="#939393" stroke-width="1"/>
<rect x="706.52" y="606.5" width="3.6" height="88" fill="#c4c5c5" stroke="#939393" stroke-width="1"/>
<rect x="710.14" y="628.5" width="3.6" height="66" fill="#c4c5c5" stroke="#939393" stroke-width="1"/>
<rect x="713.77" y="635.5" width="3.6" height="59" fill="#c4c5c5" stroke="#939393" stroke-width="1"/>
<rect x="717.39" y="636.5" width="3.6" height="58" fill="#c4c5c5" stroke="#939393" stroke-width="1"/>
<rect x="721.02" y="638.5" width="3.6" height="56" fill="#eca8b0" stroke="#d6808e" stroke-width="1"/>
<rect x="724.64" y="639.5" width="3.6" height="55" fill="#c4c5c5" stroke="#939393" stroke-width="1"/>
<rect x="728.27" y="639.5" width="3.6" height="55" fill="#eca8b0" stroke="#d6808e" stroke-width="1"/>
</g>
<line x1="46" y1="682.6" x2="813" y2="682.6" stroke="#e0e0e0" stroke-width="1.2" style="mix-blend-mode:multiply"/>
<line x1="813" y1="682.6" x2="817" y2="682.6" stroke="#b9b9b9"/>
<text x="818.3" y="686" font-size="14" fill="#111" color="#111" textLength="32.5" lengthAdjust="spacingAndGlyphs">4950</text>
<line x1="46" y1="658.6" x2="813" y2="658.6" stroke="#e0e0e0" stroke-width="1.2" style="mix-blend-mode:multiply"/>
<line x1="813" y1="658.6" x2="817" y2="658.6" stroke="#b9b9b9"/>
<text x="818.3" y="662" font-size="14" fill="#111" color="#111" textLength="32.5" lengthAdjust="spacingAndGlyphs">5000</text>
<line x1="46" y1="635.6" x2="813" y2="635.6" stroke="#e0e0e0" stroke-width="1.2" style="mix-blend-mode:multiply"/>
<line x1="813" y1="635.6" x2="817" y2="635.6" stroke="#b9b9b9"/>
<text x="818.3" y="639" font-size="14" fill="#111" color="#111" textLength="32.5" lengthAdjust="spacingAndGlyphs">5050</text>
<line x1="46" y1="611.9" x2="813" y2="611.9" stroke="#e0e0e0" stroke-width="1.2" style="mix-blend-mode:multiply"/>
<line x1="813" y1="611.9" x2="817" y2="611.9" stroke="#b9b9b9"/>
<text x="818.3" y="615.3" font-size="14" fill="#111" color="#111" textLength="32.5" lengthAdjust="spacingAndGlyphs">5100</text>
<line x1="46" y1="589.2" x2="813" y2="589.2" stroke="#e0e0e0" stroke-width="1.2" style="mix-blend-mode:multiply"/>
<line x1="813" y1="589.2" x2="817" y2="589.2" stroke="#b9b9b9"/>
<text x="818.3" y="592.6" font-size="14" fill="#111" color="#111" textLength="32.5" lengthAdjust="spacingAndGlyphs">5150</text>
<line x1="46" y1="565.5" x2="813" y2="565.5" stroke="#e0e0e0" stroke-width="1.2" style="mix-blend-mode:multiply"/>
<line x1="813" y1="565.5" x2="817" y2="565.5" stroke="#b9b9b9"/>
<text x="818.3" y="568.9" font-size="14" fill="#111" color="#111" textLength="32.5" lengthAdjust="spacingAndGlyphs">5200</text>
<line x1="46" y1="542.6" x2="813" y2="542.6" stroke="#e0e0e0" stroke-width="1.2" style="mix-blend-mode:multiply"/>
<line x1="813" y1="542.6" x2="817" y2="542.6" stroke="#b9b9b9"/>
<text x="818.3" y="546" font-size="14" fill="#111" color="#111" textLength="32.5" lengthAdjust="spacingAndGlyphs">5250</text>
<line x1="46" y1="521.2" x2="813" y2="521.2" stroke="#e0e0e0" stroke-width="1.2" style="mix-blend-mode:multiply"/>
<line x1="813" y1="521.2" x2="817" y2="521.2" stroke="#b9b9b9"/>
<text x="818.3" y="524.6" font-size="14" fill="#111" color="#111" textLength="32.5" lengthAdjust="spacingAndGlyphs">5300</text>
<line x1="46" y1="498.7" x2="813" y2="498.7" stroke="#e0e0e0" stroke-width="1.2" style="mix-blend-mode:multiply"/>
<line x1="813" y1="498.7" x2="817" y2="498.7" stroke="#b9b9b9"/>
<text x="818.3" y="502.1" font-size="14" fill="#111" color="#111" textLength="32.5" lengthAdjust="spacingAndGlyphs">5350</text>
<line x1="46" y1="476.4" x2="813" y2="476.4" stroke="#e0e0e0" stroke-width="1.2" style="mix-blend-mode:multiply"/>
<line x1="813" y1="476.4" x2="817" y2="476.4" stroke="#b9b9b9"/>
<text x="818.3" y="479.8" font-size="14" fill="#111" color="#111" textLength="32.5" lengthAdjust="spacingAndGlyphs">5400</text>
<line x1="46" y1="454.4" x2="813" y2="454.4" stroke="#e0e0e0" stroke-width="1.2" style="mix-blend-mode:multiply"/>
<line x1="813" y1="454.4" x2="817" y2="454.4" stroke="#b9b9b9"/>
<text x="818.3" y="457.8" font-size="14" fill="#111" color="#111" textLength="32.5" lengthAdjust="spacingAndGlyphs">5450</text>
<line x1="46" y1="432.8" x2="813" y2="432.8" stroke="#e0e0e0" stroke-width="1.2" style="mix-blend-mode:multiply"/>
<line x1="813" y1="432.8" x2="817" y2="432.8" stroke="#b9b9b9"/>
<text x="818.3" y="436.2" font-size="14" fill="#111" color="#111" textLength="32.5" lengthAdjust="spacingAndGlyphs">5500</text>
<line x1="46" y1="411.6" x2="813" y2="411.6" stroke="#e0e0e0" stroke-width="1.2" style="mix-blend-mode:multiply"/>
<line x1="813" y1="411.6" x2="817" y2="411.6" stroke="#b9b9b9"/>
<text x="818.3" y="415" font-size="14" fill="#111" color="#111" textLength="32.5" lengthAdjust="spacingAndGlyphs">5550</text>
<line x1="46" y1="389.8" x2="813" y2="389.8" stroke="#e0e0e0" stroke-width="1.2" style="mix-blend-mode:multiply"/>
<line x1="813" y1="389.8" x2="817" y2="389.8" stroke="#b9b9b9"/>
<text x="818.3" y="393.2" font-size="14" fill="#111" color="#111" textLength="32.5" lengthAdjust="spacingAndGlyphs">5600</text>
<line x1="46" y1="368.7" x2="813" y2="368.7" stroke="#e0e0e0" stroke-width="1.2" style="mix-blend-mode:multiply"/>
<line x1="813" y1="368.7" x2="817" y2="368.7" stroke="#b9b9b9"/>
<text x="818.3" y="372.1" font-size="14" fill="#111" color="#111" textLength="32.5" lengthAdjust="spacingAndGlyphs">5650</text>
<line x1="46" y1="348" x2="813" y2="348" stroke="#e0e0e0" stroke-width="1.2" style="mix-blend-mode:multiply"/>
<line x1="813" y1="348" x2="817" y2="348" stroke="#b9b9b9"/>
<text x="818.3" y="351.4" font-size="14" fill="#111" color="#111" textLength="32.5" lengthAdjust="spacingAndGlyphs">5700</text>
<line x1="46" y1="327.7" x2="813" y2="327.7" stroke="#e0e0e0" stroke-width="1.2" style="mix-blend-mode:multiply"/>
<line x1="813" y1="327.7" x2="817" y2="327.7" stroke="#b9b9b9"/>
<text x="818.3" y="331.1" font-size="14" fill="#111" color="#111" textLength="32.5" lengthAdjust="spacingAndGlyphs">5750</text>
<line x1="46" y1="306.8" x2="813" y2="306.8" stroke="#e0e0e0" stroke-width="1.2" style="mix-blend-mode:multiply"/>
<line x1="813" y1="306.8" x2="817" y2="306.8" stroke="#b9b9b9"/>
<text x="818.3" y="310.2" font-size="14" fill="#111" color="#111" textLength="32.5" lengthAdjust="spacingAndGlyphs">5800</text>
<line x1="46" y1="286.9" x2="813" y2="286.9" stroke="#e0e0e0" stroke-width="1.2" style="mix-blend-mode:multiply"/>
<line x1="813" y1="286.9" x2="817" y2="286.9" stroke="#b9b9b9"/>
<text x="818.3" y="290.3" font-size="14" fill="#111" color="#111" textLength="32.5" lengthAdjust="spacingAndGlyphs">5850</text>
<line x1="46" y1="267.3" x2="813" y2="267.3" stroke="#e0e0e0" stroke-width="1.2" style="mix-blend-mode:multiply"/>
<line x1="813" y1="267.3" x2="817" y2="267.3" stroke="#b9b9b9"/>
<text x="818.3" y="270.7" font-size="14" fill="#111" color="#111" textLength="32.5" lengthAdjust="spacingAndGlyphs">5900</text>
<line x1="46" y1="246.2" x2="813" y2="246.2" stroke="#e0e0e0" stroke-width="1.2" style="mix-blend-mode:multiply"/>
<line x1="813" y1="246.2" x2="817" y2="246.2" stroke="#b9b9b9"/>
<text x="818.3" y="249.6" font-size="14" fill="#111" color="#111" textLength="32.5" lengthAdjust="spacingAndGlyphs">5950</text>
<line x1="46" y1="226.4" x2="813" y2="226.4" stroke="#e0e0e0" stroke-width="1.2" style="mix-blend-mode:multiply"/>
<line x1="813" y1="226.4" x2="817" y2="226.4" stroke="#b9b9b9"/>
<text x="818.3" y="229.8" font-size="14" fill="#111" color="#111" textLength="32.5" lengthAdjust="spacingAndGlyphs">6000</text>
<g clip-path="url(#cpin)">
<line x1="47.66" y1="640.49" x2="47.66" y2="659" stroke="#e0002a" stroke-width="1.5"/>
<rect x="46.16" y="644.06" width="3" height="12.08" fill="#e0002a" stroke="#e0002a" stroke-width="1"/>
<line x1="51.28" y1="661.76" x2="51.28" y2="680.21" stroke="#e0002a" stroke-width="1.5"/>
<rect x="49.98" y="663.35" width="2.6" height="7.57" fill="#e0002a"/>
<line x1="54.91" y1="666.75" x2="54.91" y2="684.53" stroke="#000000" stroke-width="1.5"/>
<rect x="53.41" y="667.42" width="3" height="8.95" fill="#fff" stroke="#000000" stroke-width="1"/>
<line x1="58.53" y1="614.42" x2="58.53" y2="640.43" stroke="#000000" stroke-width="1.5"/>
<rect x="57.23" y="617.35" width="2.6" height="23.58" fill="#000000"/>
<line x1="62.16" y1="606.68" x2="62.16" y2="620.45" stroke="#000000" stroke-width="1.5"/>
<rect x="60.66" y="611.39" width="3" height="5.64" fill="#000000" stroke="#000000" stroke-width="1"/>
<line x1="65.78" y1="612.9" x2="65.78" y2="626.31" stroke="#e0002a" stroke-width="1.5"/>
<rect x="64.48" y="614.57" width="2.6" height="11.95" fill="#e0002a"/>
<line x1="69.41" y1="620.81" x2="69.41" y2="631.76" stroke="#000000" stroke-width="1.5"/>
<rect x="67.91" y="621.98" width="3" height="1.67" fill="#fff" stroke="#000000" stroke-width="1"/>
<line x1="73.03" y1="622.36" x2="73.03" y2="631.26" stroke="#e0002a" stroke-width="1.5"/>
<rect x="71.53" y="625.92" width="3" height="1.2" fill="#fff" stroke="#e0002a" stroke-width="1"/>
<line x1="76.66" y1="609.49" x2="76.66" y2="629.6" stroke="#000000" stroke-width="1.5"/>
<rect x="75.36" y="613.05" width="2.6" height="6.08" fill="#000000"/>
<line x1="80.28" y1="593.13" x2="80.28" y2="614.53" stroke="#000000" stroke-width="1.5"/>
<rect x="78.78" y="594.63" width="3" height="17.87" fill="#fff" stroke="#000000" stroke-width="1"/>
<line x1="83.9" y1="588.83" x2="83.9" y2="599.21" stroke="#e0002a" stroke-width="1.5"/>
<rect x="82.6" y="596.95" width="2.6" height="2" fill="#e0002a"/>
<line x1="87.53" y1="605.06" x2="87.53" y2="631.98" stroke="#e0002a" stroke-width="1.5"/>
<rect x="86.03" y="606.93" width="3" height="14.84" fill="#e0002a" stroke="#e0002a" stroke-width="1"/>
<line x1="91.15" y1="598.84" x2="91.15" y2="615.43" stroke="#000000" stroke-width="1.5"/>
<rect x="89.85" y="607.58" width="2.6" height="2.52" fill="#000000"/>
<line x1="94.78" y1="581.49" x2="94.78" y2="598.73" stroke="#000000" stroke-width="1.5"/>
<rect x="93.28" y="585.29" width="3" height="11.51" fill="#fff" stroke="#000000" stroke-width="1"/>
<line x1="98.4" y1="570.67" x2="98.4" y2="603.69" stroke="#e0002a" stroke-width="1.5"/>
<rect x="96.9" y="582.03" width="3" height="18.8" fill="#e0002a" stroke="#e0002a" stroke-width="1"/>
<line x1="102.03" y1="600.37" x2="102.03" y2="615.94" stroke="#e0002a" stroke-width="1.5"/>
<rect x="100.73" y="602.99" width="2.6" height="3.77" fill="#e0002a"/>
<line x1="105.65" y1="574.96" x2="105.65" y2="605.09" stroke="#000000" stroke-width="1.5"/>
<rect x="104.15" y="577.07" width="3" height="18.85" fill="#fff" stroke="#000000" stroke-width="1"/>
<line x1="109.28" y1="575.3" x2="109.28" y2="587.81" stroke="#e0002a" stroke-width="1.5"/>
<rect x="107.98" y="577.38" width="2.6" height="4.75" fill="#e0002a"/>
<line x1="112.9" y1="576.34" x2="112.9" y2="601" stroke="#e0002a" stroke-width="1.5"/>
<rect x="111.4" y="577.13" width="3" height="11.33" fill="#e0002a" stroke="#e0002a" stroke-width="1"/>
<line x1="116.53" y1="594.74" x2="116.53" y2="609.79" stroke="#e0002a" stroke-width="1.5"/>
<rect x="115.23" y="600.5" width="2.6" height="3.88" fill="#e0002a"/>
<line x1="120.15" y1="576.92" x2="120.15" y2="590.76" stroke="#000000" stroke-width="1.5"/>
<rect x="118.65" y="586.48" width="3" height="2.46" fill="#000000" stroke="#000000" stroke-width="1"/>
<line x1="123.77" y1="574.76" x2="123.77" y2="597.17" stroke="#000000" stroke-width="1.5"/>
<rect x="122.27" y="575.58" width="3" height="18.12" fill="#fff" stroke="#000000" stroke-width="1"/>
<line x1="127.4" y1="553.85" x2="127.4" y2="578.77" stroke="#000000" stroke-width="1.5"/>
<rect x="126.1" y="554.06" width="2.6" height="20.57" fill="#000000"/>
<line x1="131.02" y1="538.06" x2="131.02" y2="547.29" stroke="#000000" stroke-width="1.5"/>
<rect x="129.52" y="541.52" width="3" height="5.38" fill="#000000" stroke="#000000" stroke-width="1"/>
<line x1="134.65" y1="544.84" x2="134.65" y2="552.18" stroke="#e0002a" stroke-width="1.5"/>
<rect x="133.35" y="545.97" width="2.6" height="4.76" fill="#e0002a"/>
<line x1="138.27" y1="552.53" x2="138.27" y2="558.44" stroke="#e0002a" stroke-width="1.5"/>
<rect x="136.77" y="556.88" width="3" height="1" fill="#e0002a" stroke="#e0002a" stroke-width="1"/>
<line x1="141.9" y1="549.78" x2="141.9" y2="564.2" stroke="#e0002a" stroke-width="1.5"/>
<rect x="140.6" y="552.14" width="2.6" height="12.49" fill="#e0002a"/>
<line x1="145.52" y1="543.4" x2="145.52" y2="559.42" stroke="#000000" stroke-width="1.5"/>
<rect x="144.02" y="543.75" width="3" height="10.04" fill="#fff" stroke="#000000" stroke-width="1"/>
<line x1="149.15" y1="536.37" x2="149.15" y2="544.96" stroke="#000000" stroke-width="1.5"/>
<rect x="147.65" y="541.11" width="3" height="2.85" fill="#fff" stroke="#000000" stroke-width="1"/>
<line x1="152.77" y1="536.78" x2="152.77" y2="552.48" stroke="#e0002a" stroke-width="1.5"/>
<rect x="151.47" y="538.97" width="2.6" height="7.41" fill="#e0002a"/>
<line x1="156.4" y1="561.96" x2="156.4" y2="573.05" stroke="#e0002a" stroke-width="1.5"/>
<rect x="154.9" y="563.12" width="3" height="1" fill="#fff" stroke="#e0002a" stroke-width="1"/>
<line x1="160.02" y1="552.69" x2="160.02" y2="568.33" stroke="#000000" stroke-width="1.5"/>
<rect x="158.72" y="560.03" width="2.6" height="8.8" fill="#000000"/>
<line x1="163.64" y1="540.09" x2="163.64" y2="590.49" stroke="#e0002a" stroke-width="1.5"/>
<rect x="162.14" y="545.76" width="3" height="44.2" fill="#e0002a" stroke="#e0002a" stroke-width="1"/>
<line x1="167.27" y1="555.67" x2="167.27" y2="585.36" stroke="#000000" stroke-width="1.5"/>
<rect x="165.97" y="563.29" width="2.6" height="21.77" fill="#000000"/>
<line x1="170.89" y1="556.86" x2="170.89" y2="566.97" stroke="#e0002a" stroke-width="1.5"/>
<rect x="169.39" y="560.58" width="3" height="4.09" fill="#e0002a" stroke="#e0002a" stroke-width="1"/>
<line x1="174.52" y1="554.48" x2="174.52" y2="583.72" stroke="#000000" stroke-width="1.5"/>
<rect x="173.02" y="558.01" width="3" height="3.24" fill="#000000" stroke="#000000" stroke-width="1"/>
<line x1="178.14" y1="575.62" x2="178.14" y2="593.89" stroke="#e0002a" stroke-width="1.5"/>
<rect x="176.84" y="579.96" width="2.6" height="4.32" fill="#e0002a"/>
<line x1="181.77" y1="560.4" x2="181.77" y2="593.85" stroke="#000000" stroke-width="1.5"/>
<rect x="180.27" y="566.19" width="3" height="11.94" fill="#fff" stroke="#000000" stroke-width="1"/>
<line x1="185.39" y1="577.18" x2="185.39" y2="608.12" stroke="#e0002a" stroke-width="1.5"/>
<rect x="184.09" y="578.29" width="2.6" height="23.16" fill="#e0002a"/>
<line x1="189.02" y1="580.21" x2="189.02" y2="634.02" stroke="#e0002a" stroke-width="1.5"/>
<rect x="187.52" y="588.83" width="3" height="40.81" fill="#e0002a" stroke="#e0002a" stroke-width="1"/>
<line x1="192.64" y1="621.21" x2="192.64" y2="639.96" stroke="#e0002a" stroke-width="1.5"/>
<rect x="191.34" y="627.84" width="2.6" height="7.18" fill="#e0002a"/>
<line x1="196.26" y1="622.08" x2="196.26" y2="655.34" stroke="#e0002a" stroke-width="1.5"/>
<rect x="194.76" y="626.29" width="3" height="21.98" fill="#e0002a" stroke="#e0002a" stroke-width="1"/>
<line x1="199.89" y1="632.05" x2="199.89" y2="659.48" stroke="#e0002a" stroke-width="1.5"/>
<rect x="198.39" y="643.87" width="3" height="9.63" fill="#e0002a" stroke="#e0002a" stroke-width="1"/>
<line x1="203.51" y1="649.77" x2="203.51" y2="680.9" stroke="#e0002a" stroke-width="1.5"/>
<rect x="202.21" y="655.7" width="2.6" height="19.17" fill="#e0002a"/>
<line x1="207.14" y1="640.42" x2="207.14" y2="673.33" stroke="#000000" stroke-width="1.5"/>
<rect x="205.64" y="653.75" width="3" height="11.04" fill="#fff" stroke="#000000" stroke-width="1"/>
<line x1="210.76" y1="622.94" x2="210.76" y2="645.55" stroke="#000000" stroke-width="1.5"/>
<rect x="209.46" y="625.05" width="2.6" height="20.58" fill="#000000"/>
<line x1="214.39" y1="616.71" x2="214.39" y2="636.58" stroke="#000000" stroke-width="1.5"/>
<rect x="212.89" y="618.86" width="3" height="6.18" fill="#000000" stroke="#000000" stroke-width="1"/>
<line x1="218.01" y1="631.54" x2="218.01" y2="663.25" stroke="#e0002a" stroke-width="1.5"/>
<rect x="216.71" y="635.42" width="2.6" height="14.44" fill="#e0002a"/>
<line x1="221.64" y1="605.03" x2="221.64" y2="624.34" stroke="#000000" stroke-width="1.5"/>
<rect x="220.14" y="611.83" width="3" height="7.13" fill="#fff" stroke="#000000" stroke-width="1"/>
<line x1="225.26" y1="600.92" x2="225.26" y2="617.1" stroke="#000000" stroke-width="1.5"/>
<rect x="223.76" y="604.31" width="3" height="1" fill="#fff" stroke="#000000" stroke-width="1"/>
<line x1="228.88" y1="606.78" x2="228.88" y2="642.09" stroke="#e0002a" stroke-width="1.5"/>
<rect x="227.58" y="609.56" width="2.6" height="32.85" fill="#e0002a"/>
<line x1="232.51" y1="613.62" x2="232.51" y2="652.4" stroke="#e0002a" stroke-width="1.5"/>
<rect x="231.01" y="645.05" width="3" height="5.02" fill="#e0002a" stroke="#e0002a" stroke-width="1"/>
<line x1="236.13" y1="624.3" x2="236.13" y2="653.54" stroke="#000000" stroke-width="1.5"/>
<rect x="234.83" y="628.02" width="2.6" height="7.98" fill="#000000"/>
<line x1="239.76" y1="593.69" x2="239.76" y2="611.25" stroke="#000000" stroke-width="1.5"/>
<rect x="238.26" y="598.93" width="3" height="2.32" fill="#fff" stroke="#000000" stroke-width="1"/>
<line x1="243.38" y1="574.44" x2="243.38" y2="592.17" stroke="#000000" stroke-width="1.5"/>
<rect x="242.08" y="574.06" width="2.6" height="18.61" fill="#000000"/>
<line x1="247.01" y1="565.66" x2="247.01" y2="575.38" stroke="#000000" stroke-width="1.5"/>
<rect x="245.51" y="571.38" width="3" height="1" fill="#fff" stroke="#000000" stroke-width="1"/>
<line x1="250.63" y1="569.44" x2="250.63" y2="581.38" stroke="#e0002a" stroke-width="1.5"/>
<rect x="249.13" y="571.39" width="3" height="8.56" fill="#fff" stroke="#e0002a" stroke-width="1"/>
<line x1="254.26" y1="558.8" x2="254.26" y2="574.71" stroke="#000000" stroke-width="1.5"/>
<rect x="252.96" y="558.85" width="2.6" height="12.42" fill="#000000"/>
<line x1="257.88" y1="547.75" x2="257.88" y2="561.35" stroke="#000000" stroke-width="1.5"/>
<rect x="256.38" y="554.17" width="3" height="1.28" fill="#000000" stroke="#000000" stroke-width="1"/>
<line x1="261.51" y1="548.83" x2="261.51" y2="560.68" stroke="#e0002a" stroke-width="1.5"/>
<rect x="260.21" y="550.23" width="2.6" height="6.29" fill="#e0002a"/>
<line x1="265.13" y1="542.9" x2="265.13" y2="557.58" stroke="#000000" stroke-width="1.5"/>
<rect x="263.63" y="544.57" width="3" height="11.59" fill="#fff" stroke="#000000" stroke-width="1"/>
<line x1="268.75" y1="515.33" x2="268.75" y2="537.09" stroke="#000000" stroke-width="1.5"/>
<rect x="267.45" y="516.45" width="2.6" height="21.14" fill="#000000"/>
<line x1="272.38" y1="509.21" x2="272.38" y2="522.3" stroke="#e0002a" stroke-width="1.5"/>
<rect x="270.88" y="516.09" width="3" height="5.8" fill="#e0002a" stroke="#e0002a" stroke-width="1"/>
<line x1="276" y1="518.15" x2="276" y2="527.94" stroke="#000000" stroke-width="1.5"/>
<rect x="274.5" y="519.13" width="3" height="1" fill="#fff" stroke="#000000" stroke-width="1"/>
<line x1="279.63" y1="509.29" x2="279.63" y2="519.52" stroke="#000000" stroke-width="1.5"/>
<rect x="278.33" y="516.46" width="2.6" height="2.24" fill="#000000"/>
<line x1="283.25" y1="509.73" x2="283.25" y2="521.54" stroke="#000000" stroke-width="1.5"/>
<rect x="281.75" y="511.03" width="3" height="10.15" fill="#fff" stroke="#000000" stroke-width="1"/>
<line x1="286.88" y1="510.24" x2="286.88" y2="526.86" stroke="#e0002a" stroke-width="1.5"/>
<rect x="285.58" y="511.48" width="2.6" height="6.48" fill="#e0002a"/>
<line x1="290.5" y1="501.93" x2="290.5" y2="539.94" stroke="#e0002a" stroke-width="1.5"/>
<rect x="289" y="502.64" width="3" height="32.38" fill="#e0002a" stroke="#e0002a" stroke-width="1"/>
<line x1="294.13" y1="515.38" x2="294.13" y2="530.28" stroke="#000000" stroke-width="1.5"/>
<rect x="292.83" y="517.98" width="2.6" height="11.43" fill="#000000"/>
<line x1="297.75" y1="513.48" x2="297.75" y2="529.16" stroke="#000000" stroke-width="1.5"/>
<rect x="296.25" y="513.48" width="3" height="4.41" fill="#000000" stroke="#000000" stroke-width="1"/>
<line x1="301.38" y1="528.54" x2="301.38" y2="537.34" stroke="#e0002a" stroke-width="1.5"/>
<rect x="299.88" y="530.13" width="3" height="5.3" fill="#e0002a" stroke="#e0002a" stroke-width="1"/>
<line x1="305" y1="538.46" x2="305" y2="555.71" stroke="#e0002a" stroke-width="1.5"/>
<rect x="303.7" y="538.16" width="2.6" height="11.98" fill="#e0002a"/>
<line x1="308.62" y1="529.41" x2="308.62" y2="569.56" stroke="#000000" stroke-width="1.5"/>
<rect x="307.12" y="530.68" width="3" height="15.46" fill="#fff" stroke="#000000" stroke-width="1"/>
<line x1="312.25" y1="519.65" x2="312.25" y2="550.16" stroke="#000000" stroke-width="1.5"/>
<rect x="310.95" y="521.37" width="2.6" height="7.16" fill="#000000"/>
<line x1="315.87" y1="521.13" x2="315.87" y2="539.63" stroke="#000000" stroke-width="1.5"/>
<rect x="314.37" y="524.47" width="3" height="5.88" fill="#fff" stroke="#000000" stroke-width="1"/>
<line x1="319.5" y1="496.48" x2="319.5" y2="521.65" stroke="#000000" stroke-width="1.5"/>
<rect x="318.2" y="496.04" width="2.6" height="18.58" fill="#000000"/>
<line x1="323.12" y1="492.85" x2="323.12" y2="504.82" stroke="#e0002a" stroke-width="1.5"/>
<rect x="321.62" y="494.87" width="3" height="2.14" fill="#e0002a" stroke="#e0002a" stroke-width="1"/>
<line x1="326.75" y1="487.23" x2="326.75" y2="506.61" stroke="#e0002a" stroke-width="1.5"/>
<rect x="325.25" y="499.66" width="3" height="1.41" fill="#fff" stroke="#e0002a" stroke-width="1"/>
<line x1="330.37" y1="491.33" x2="330.37" y2="506.53" stroke="#000000" stroke-width="1.5"/>
<rect x="329.07" y="493.05" width="2.6" height="9.67" fill="#000000"/>
<line x1="334" y1="486.85" x2="334" y2="508.43" stroke="#000000" stroke-width="1.5"/>
<rect x="332.5" y="487.13" width="3" height="9.87" fill="#fff" stroke="#000000" stroke-width="1"/>
<line x1="337.62" y1="455.6" x2="337.62" y2="472.26" stroke="#000000" stroke-width="1.5"/>
<rect x="336.32" y="466.54" width="2.6" height="6.21" fill="#000000"/>
<line x1="341.24" y1="457.92" x2="341.24" y2="475.16" stroke="#000000" stroke-width="1.5"/>
<rect x="339.74" y="457.92" width="3" height="3.57" fill="#000000" stroke="#000000" stroke-width="1"/>
<line x1="344.87" y1="462.08" x2="344.87" y2="474.62" stroke="#e0002a" stroke-width="1.5"/>
<rect x="343.57" y="461.93" width="2.6" height="4.29" fill="#e0002a"/>
<line x1="348.49" y1="437.71" x2="348.49" y2="467.32" stroke="#000000" stroke-width="1.5"/>
<rect x="346.99" y="444.32" width="3" height="18.32" fill="#fff" stroke="#000000" stroke-width="1"/>
<line x1="352.12" y1="436.9" x2="352.12" y2="445.15" stroke="#000000" stroke-width="1.5"/>
<rect x="350.62" y="438.35" width="3" height="4.71" fill="#fff" stroke="#000000" stroke-width="1"/>
<line x1="355.74" y1="430.36" x2="355.74" y2="451.99" stroke="#e0002a" stroke-width="1.5"/>
<rect x="354.44" y="432.25" width="2.6" height="12.59" fill="#e0002a"/>
<line x1="359.37" y1="442.12" x2="359.37" y2="453.52" stroke="#e0002a" stroke-width="1.5"/>
<rect x="357.87" y="442.12" width="3" height="5.93" fill="#e0002a" stroke="#e0002a" stroke-width="1"/>
<line x1="362.99" y1="436.78" x2="362.99" y2="455.45" stroke="#e0002a" stroke-width="1.5"/>
<rect x="361.69" y="449.74" width="2.6" height="6.09" fill="#e0002a"/>
<line x1="366.62" y1="444.47" x2="366.62" y2="455.9" stroke="#000000" stroke-width="1.5"/>
<rect x="365.12" y="446.02" width="3" height="3.72" fill="#fff" stroke="#000000" stroke-width="1"/>
<line x1="370.24" y1="440.03" x2="370.24" y2="453.59" stroke="#000000" stroke-width="1.5"/>
<rect x="368.94" y="441.8" width="2.6" height="8.45" fill="#000000"/>
<line x1="373.87" y1="436.71" x2="373.87" y2="446.79" stroke="#000000" stroke-width="1.5"/>
<rect x="372.37" y="440.15" width="3" height="4.02" fill="#fff" stroke="#000000" stroke-width="1"/>
<line x1="377.49" y1="422.58" x2="377.49" y2="453.92" stroke="#e0002a" stroke-width="1.5"/>
<rect x="375.99" y="437.72" width="3" height="12.13" fill="#e0002a" stroke="#e0002a" stroke-width="1"/>
<line x1="381.11" y1="441.58" x2="381.11" y2="455.92" stroke="#000000" stroke-width="1.5"/>
<rect x="379.81" y="443.01" width="2.6" height="2.74" fill="#000000"/>
<line x1="384.74" y1="428.57" x2="384.74" y2="450.74" stroke="#000000" stroke-width="1.5"/>
<rect x="383.24" y="428.87" width="3" height="20.39" fill="#fff" stroke="#000000" stroke-width="1"/>
<line x1="388.36" y1="415.88" x2="388.36" y2="429.55" stroke="#000000" stroke-width="1.5"/>
<rect x="387.06" y="416.34" width="2.6" height="13.7" fill="#000000"/>
<line x1="391.99" y1="402.61" x2="391.99" y2="419.15" stroke="#000000" stroke-width="1.5"/>
<rect x="390.49" y="403.95" width="3" height="12.51" fill="#fff" stroke="#000000" stroke-width="1"/>
<line x1="395.61" y1="397.18" x2="395.61" y2="405.95" stroke="#000000" stroke-width="1.5"/>
<rect x="394.31" y="401.04" width="2.6" height="2" fill="#000000"/>
<line x1="399.24" y1="393.94" x2="399.24" y2="400.81" stroke="#000000" stroke-width="1.5"/>
<rect x="397.74" y="396.7" width="3" height="3.09" fill="#000000" stroke="#000000" stroke-width="1"/>
<line x1="402.86" y1="375.08" x2="402.86" y2="395.77" stroke="#000000" stroke-width="1.5"/>
<rect x="401.36" y="375.7" width="3" height="18.02" fill="#fff" stroke="#000000" stroke-width="1"/>
<line x1="406.49" y1="372.11" x2="406.49" y2="399.98" stroke="#e0002a" stroke-width="1.5"/>
<rect x="405.19" y="374.65" width="2.6" height="22.42" fill="#e0002a"/>
<line x1="410.11" y1="366.6" x2="410.11" y2="394.07" stroke="#000000" stroke-width="1.5"/>
<rect x="408.61" y="383.53" width="3" height="10.41" fill="#fff" stroke="#000000" stroke-width="1"/>
<line x1="413.73" y1="361.84" x2="413.73" y2="383.78" stroke="#000000" stroke-width="1.5"/>
<rect x="412.43" y="373.41" width="2.6" height="3.92" fill="#000000"/>
<line x1="417.36" y1="360.69" x2="417.36" y2="373.55" stroke="#000000" stroke-width="1.5"/>
<rect x="415.86" y="361.73" width="3" height="9.69" fill="#fff" stroke="#000000" stroke-width="1"/>
<line x1="420.98" y1="380.51" x2="420.98" y2="396.46" stroke="#e0002a" stroke-width="1.5"/>
<rect x="419.68" y="385.26" width="2.6" height="10.23" fill="#e0002a"/>
<line x1="424.61" y1="384.07" x2="424.61" y2="422.93" stroke="#e0002a" stroke-width="1.5"/>
<rect x="423.11" y="386.39" width="3" height="27.2" fill="#e0002a" stroke="#e0002a" stroke-width="1"/>
<line x1="428.23" y1="408.08" x2="428.23" y2="434.02" stroke="#e0002a" stroke-width="1.5"/>
<rect x="426.73" y="414.12" width="3" height="16.47" fill="#e0002a" stroke="#e0002a" stroke-width="1"/>
<line x1="431.86" y1="402.6" x2="431.86" y2="420.26" stroke="#000000" stroke-width="1.5"/>
<rect x="430.56" y="404.64" width="2.6" height="9.48" fill="#000000"/>
<line x1="435.48" y1="396.23" x2="435.48" y2="410.9" stroke="#e0002a" stroke-width="1.5"/>
<rect x="433.98" y="404.76" width="3" height="4.08" fill="#e0002a" stroke="#e0002a" stroke-width="1"/>
<line x1="439.11" y1="429.28" x2="439.11" y2="467.5" stroke="#e0002a" stroke-width="1.5"/>
<rect x="437.81" y="429.73" width="2.6" height="35.15" fill="#e0002a"/>
<line x1="442.73" y1="436.38" x2="442.73" y2="480.24" stroke="#e0002a" stroke-width="1.5"/>
<rect x="441.23" y="463.69" width="3" height="12.91" fill="#e0002a" stroke="#e0002a" stroke-width="1"/>
<line x1="446.36" y1="437.79" x2="446.36" y2="462.82" stroke="#000000" stroke-width="1.5"/>
<rect x="445.06" y="449.95" width="2.6" height="12.07" fill="#000000"/>
<line x1="449.98" y1="438.04" x2="449.98" y2="456.83" stroke="#000000" stroke-width="1.5"/>
<rect x="448.48" y="442.88" width="3" height="5.64" fill="#000000" stroke="#000000" stroke-width="1"/>
<line x1="453.6" y1="437.3" x2="453.6" y2="480.4" stroke="#e0002a" stroke-width="1.5"/>
<rect x="452.1" y="441.94" width="3" height="18.38" fill="#e0002a" stroke="#e0002a" stroke-width="1"/>
<line x1="457.23" y1="410.64" x2="457.23" y2="435.44" stroke="#000000" stroke-width="1.5"/>
<rect x="455.93" y="422.65" width="2.6" height="8.19" fill="#000000"/>
<line x1="460.85" y1="404.39" x2="460.85" y2="471.69" stroke="#e0002a" stroke-width="1.5"/>
<rect x="459.35" y="416.49" width="3" height="39.36" fill="#e0002a" stroke="#e0002a" stroke-width="1"/>
<line x1="464.48" y1="483.35" x2="464.48" y2="519.68" stroke="#e0002a" stroke-width="1.5"/>
<rect x="463.18" y="486.05" width="2.6" height="14.3" fill="#e0002a"/>
<line x1="468.1" y1="542.67" x2="468.1" y2="602.87" stroke="#e0002a" stroke-width="1.5"/>
<rect x="466.6" y="572.01" width="3" height="16.15" fill="#fff" stroke="#e0002a" stroke-width="1"/>
<line x1="471.73" y1="515.08" x2="471.73" y2="568.7" stroke="#000000" stroke-width="1.5"/>
<rect x="470.43" y="547.08" width="2.6" height="16.26" fill="#000000"/>
<line x1="475.35" y1="506.92" x2="475.35" y2="567.8" stroke="#e0002a" stroke-width="1.5"/>
<rect x="473.85" y="523.67" width="3" height="42.32" fill="#e0002a" stroke="#e0002a" stroke-width="1"/>
<line x1="478.98" y1="508.95" x2="478.98" y2="560.68" stroke="#000000" stroke-width="1.5"/>
<rect x="477.48" y="511.97" width="3" height="38.7" fill="#fff" stroke="#000000" stroke-width="1"/>
<line x1="482.6" y1="497.49" x2="482.6" y2="520.48" stroke="#000000" stroke-width="1.5"/>
<rect x="481.3" y="500.41" width="2.6" height="14.03" fill="#000000"/>
<line x1="486.22" y1="488.94" x2="486.22" y2="509.71" stroke="#000000" stroke-width="1.5"/>
<rect x="484.72" y="497.49" width="3" height="3.32" fill="#000000" stroke="#000000" stroke-width="1"/>
<line x1="489.85" y1="460.29" x2="489.85" y2="486.39" stroke="#000000" stroke-width="1.5"/>
<rect x="488.55" y="460.69" width="2.6" height="26.2" fill="#000000"/>
<line x1="493.47" y1="448.66" x2="493.47" y2="469.26" stroke="#000000" stroke-width="1.5"/>
<rect x="491.97" y="452.14" width="3" height="5.7" fill="#fff" stroke="#000000" stroke-width="1"/>
<line x1="497.1" y1="412.9" x2="497.1" y2="432.03" stroke="#000000" stroke-width="1.5"/>
<rect x="495.8" y="413.68" width="2.6" height="18.85" fill="#000000"/>
<line x1="500.72" y1="406.17" x2="500.72" y2="421.92" stroke="#000000" stroke-width="1.5"/>
<rect x="499.22" y="409.47" width="3" height="10.16" fill="#fff" stroke="#000000" stroke-width="1"/>
<line x1="504.35" y1="386.5" x2="504.35" y2="410.97" stroke="#000000" stroke-width="1.5"/>
<rect x="502.85" y="386.53" width="3" height="21.67" fill="#fff" stroke="#000000" stroke-width="1"/>
<line x1="507.97" y1="381.35" x2="507.97" y2="396.17" stroke="#e0002a" stroke-width="1.5"/>
<rect x="506.67" y="388.3" width="2.6" height="3.44" fill="#e0002a"/>
<line x1="511.6" y1="376.22" x2="511.6" y2="393.59" stroke="#000000" stroke-width="1.5"/>
<rect x="510.1" y="381.2" width="3" height="7.51" fill="#fff" stroke="#000000" stroke-width="1"/>
<line x1="515.22" y1="371.78" x2="515.22" y2="406.61" stroke="#e0002a" stroke-width="1.5"/>
<rect x="513.92" y="373.58" width="2.6" height="29.41" fill="#e0002a"/>
<line x1="518.84" y1="372.37" x2="518.84" y2="393.96" stroke="#000000" stroke-width="1.5"/>
<rect x="517.34" y="375.4" width="3" height="13.47" fill="#fff" stroke="#000000" stroke-width="1"/>
<line x1="522.47" y1="368.26" x2="522.47" y2="389.03" stroke="#e0002a" stroke-width="1.5"/>
<rect x="521.17" y="372.78" width="2.6" height="10.62" fill="#e0002a"/>
<line x1="526.09" y1="376.85" x2="526.09" y2="392.78" stroke="#000000" stroke-width="1.5"/>
<rect x="524.59" y="379.12" width="3" height="9.68" fill="#fff" stroke="#000000" stroke-width="1"/>
<line x1="529.72" y1="378.6" x2="529.72" y2="406.61" stroke="#e0002a" stroke-width="1.5"/>
<rect x="528.22" y="379.66" width="3" height="13.67" fill="#e0002a" stroke="#e0002a" stroke-width="1"/>
<line x1="533.34" y1="370.22" x2="533.34" y2="396.93" stroke="#e0002a" stroke-width="1.5"/>
<rect x="532.04" y="386.43" width="2.6" height="7.5" fill="#e0002a"/>
<line x1="536.97" y1="368.36" x2="536.97" y2="397.74" stroke="#000000" stroke-width="1.5"/>
<rect x="535.47" y="369.61" width="3" height="15.02" fill="#fff" stroke="#000000" stroke-width="1"/>
<line x1="540.59" y1="379.92" x2="540.59" y2="427.11" stroke="#e0002a" stroke-width="1.5"/>
<rect x="539.29" y="379.42" width="2.6" height="41.38" fill="#e0002a"/>
<line x1="544.22" y1="410.01" x2="544.22" y2="431.17" stroke="#e0002a" stroke-width="1.5"/>
<rect x="542.72" y="424.11" width="3" height="5.76" fill="#fff" stroke="#e0002a" stroke-width="1"/>
<line x1="547.84" y1="412.81" x2="547.84" y2="437.05" stroke="#e0002a" stroke-width="1.5"/>
<rect x="546.54" y="421.64" width="2.6" height="10.14" fill="#e0002a"/>
<line x1="551.47" y1="423.08" x2="551.47" y2="475.11" stroke="#e0002a" stroke-width="1.5"/>
<rect x="549.97" y="429.59" width="3" height="42.98" fill="#e0002a" stroke="#e0002a" stroke-width="1"/>
<line x1="555.09" y1="439.57" x2="555.09" y2="461.16" stroke="#000000" stroke-width="1.5"/>
<rect x="553.59" y="445.26" width="3" height="12.6" fill="#fff" stroke="#000000" stroke-width="1"/>
<line x1="558.71" y1="433.65" x2="558.71" y2="458.01" stroke="#000000" stroke-width="1.5"/>
<rect x="557.41" y="434.18" width="2.6" height="3.16" fill="#000000"/>
<line x1="562.34" y1="406.84" x2="562.34" y2="473.21" stroke="#000000" stroke-width="1.5"/>
<rect x="560.84" y="409.52" width="3" height="24.77" fill="#fff" stroke="#000000" stroke-width="1"/>
<line x1="565.96" y1="389.72" x2="565.96" y2="417.49" stroke="#000000" stroke-width="1.5"/>
<rect x="564.66" y="391.31" width="2.6" height="17.28" fill="#000000"/>
<line x1="569.59" y1="374.71" x2="569.59" y2="389.32" stroke="#000000" stroke-width="1.5"/>
<rect x="568.09" y="379.02" width="3" height="9.58" fill="#fff" stroke="#000000" stroke-width="1"/>
<line x1="573.21" y1="374.8" x2="573.21" y2="388.1" stroke="#000000" stroke-width="1.5"/>
<rect x="571.91" y="375.54" width="2.6" height="8.54" fill="#000000"/>
<line x1="576.84" y1="360.22" x2="576.84" y2="384.07" stroke="#000000" stroke-width="1.5"/>
<rect x="575.34" y="366.62" width="3" height="8.79" fill="#000000" stroke="#000000" stroke-width="1"/>
<line x1="580.46" y1="352.31" x2="580.46" y2="383.64" stroke="#e0002a" stroke-width="1.5"/>
<rect x="578.96" y="372.43" width="3" height="9.87" fill="#e0002a" stroke="#e0002a" stroke-width="1"/>
<line x1="584.09" y1="334.12" x2="584.09" y2="353.7" stroke="#000000" stroke-width="1.5"/>
<rect x="582.79" y="341.87" width="2.6" height="5.57" fill="#000000"/>
<line x1="587.71" y1="341.75" x2="587.71" y2="358.68" stroke="#e0002a" stroke-width="1.5"/>
<rect x="586.21" y="344.04" width="3" height="2.94" fill="#e0002a" stroke="#e0002a" stroke-width="1"/>
<line x1="591.33" y1="337.51" x2="591.33" y2="346.29" stroke="#000000" stroke-width="1.5"/>
<rect x="590.03" y="339.83" width="2.6" height="3.77" fill="#000000"/>
<line x1="594.96" y1="333.39" x2="594.96" y2="348.46" stroke="#000000" stroke-width="1.5"/>
<rect x="593.46" y="334.38" width="3" height="2.43" fill="#fff" stroke="#000000" stroke-width="1"/>
<line x1="598.58" y1="331.03" x2="598.58" y2="343.03" stroke="#e0002a" stroke-width="1.5"/>
<rect x="597.28" y="333.58" width="2.6" height="5.72" fill="#e0002a"/>
<line x1="602.21" y1="320.18" x2="602.21" y2="339.32" stroke="#000000" stroke-width="1.5"/>
<rect x="600.71" y="322.3" width="3" height="6.94" fill="#000000" stroke="#000000" stroke-width="1"/>
<line x1="605.83" y1="321.65" x2="605.83" y2="336.69" stroke="#e0002a" stroke-width="1.5"/>
<rect x="604.33" y="325.12" width="3" height="7.09" fill="#e0002a" stroke="#e0002a" stroke-width="1"/>
<line x1="609.46" y1="321.09" x2="609.46" y2="346.57" stroke="#000000" stroke-width="1.5"/>
<rect x="608.16" y="321.69" width="2.6" height="15.85" fill="#000000"/>
<line x1="613.08" y1="324.14" x2="613.08" y2="355.84" stroke="#e0002a" stroke-width="1.5"/>
<rect x="611.58" y="324.14" width="3" height="20.26" fill="#e0002a" stroke="#e0002a" stroke-width="1"/>
<line x1="616.71" y1="340.09" x2="616.71" y2="358.88" stroke="#000000" stroke-width="1.5"/>
<rect x="615.41" y="343.58" width="2.6" height="5.72" fill="#000000"/>
<line x1="620.33" y1="340.24" x2="620.33" y2="357.48" stroke="#e0002a" stroke-width="1.5"/>
<rect x="618.83" y="348.07" width="3" height="1" fill="#fff" stroke="#e0002a" stroke-width="1"/>
<line x1="623.96" y1="325.96" x2="623.96" y2="352.01" stroke="#000000" stroke-width="1.5"/>
<rect x="622.66" y="326.39" width="2.6" height="6.58" fill="#000000"/>
<line x1="627.58" y1="331.73" x2="627.58" y2="353.52" stroke="#e0002a" stroke-width="1.5"/>
<rect x="626.08" y="332.37" width="3" height="17.36" fill="#e0002a" stroke="#e0002a" stroke-width="1"/>
<line x1="631.2" y1="324.2" x2="631.2" y2="341.99" stroke="#000000" stroke-width="1.5"/>
<rect x="629.7" y="326.86" width="3" height="13.23" fill="#fff" stroke="#000000" stroke-width="1"/>
<line x1="634.83" y1="308.11" x2="634.83" y2="329.38" stroke="#000000" stroke-width="1.5"/>
<rect x="633.53" y="309.55" width="2.6" height="17.53" fill="#000000"/>
<line x1="638.45" y1="308.83" x2="638.45" y2="321.25" stroke="#e0002a" stroke-width="1.5"/>
<rect x="636.95" y="314.97" width="3" height="1" fill="#fff" stroke="#e0002a" stroke-width="1"/>
<line x1="642.08" y1="297.77" x2="642.08" y2="317" stroke="#000000" stroke-width="1.5"/>
<rect x="640.78" y="300.16" width="2.6" height="17.34" fill="#000000"/>
<line x1="645.7" y1="277.78" x2="645.7" y2="294.64" stroke="#000000" stroke-width="1.5"/>
<rect x="644.2" y="282.45" width="3" height="12.19" fill="#fff" stroke="#000000" stroke-width="1"/>
<line x1="649.33" y1="278.2" x2="649.33" y2="304.97" stroke="#e0002a" stroke-width="1.5"/>
<rect x="648.03" y="279.16" width="2.6" height="21.9" fill="#e0002a"/>
<line x1="652.95" y1="287.85" x2="652.95" y2="303.39" stroke="#000000" stroke-width="1.5"/>
<rect x="651.45" y="289.5" width="3" height="10.53" fill="#fff" stroke="#000000" stroke-width="1"/>
<line x1="656.58" y1="274.93" x2="656.58" y2="290.4" stroke="#e0002a" stroke-width="1.5"/>
<rect x="655.08" y="276.08" width="3" height="13.82" fill="#e0002a" stroke="#e0002a" stroke-width="1"/>
<line x1="660.2" y1="277.47" x2="660.2" y2="288.02" stroke="#000000" stroke-width="1.5"/>
<rect x="658.9" y="280" width="2.6" height="3.12" fill="#000000"/>
<line x1="663.82" y1="279.59" x2="663.82" y2="296.83" stroke="#e0002a" stroke-width="1.5"/>
<rect x="662.32" y="283.27" width="3" height="1.56" fill="#e0002a" stroke="#e0002a" stroke-width="1"/>
<line x1="667.45" y1="281.16" x2="667.45" y2="298.16" stroke="#e0002a" stroke-width="1.5"/>
<rect x="666.15" y="285.45" width="2.6" height="8.51" fill="#e0002a"/>
<line x1="671.07" y1="292.59" x2="671.07" y2="322.22" stroke="#e0002a" stroke-width="1.5"/>
<rect x="669.57" y="292.73" width="3" height="15.12" fill="#e0002a" stroke="#e0002a" stroke-width="1"/>
<line x1="674.7" y1="299.53" x2="674.7" y2="312.97" stroke="#000000" stroke-width="1.5"/>
<rect x="673.4" y="299.03" width="2.6" height="4.24" fill="#000000"/>
<line x1="678.32" y1="281.25" x2="678.32" y2="306.81" stroke="#e0002a" stroke-width="1.5"/>
<rect x="676.82" y="295.89" width="3" height="7.59" fill="#e0002a" stroke="#e0002a" stroke-width="1"/>
<line x1="681.95" y1="289.31" x2="681.95" y2="297.38" stroke="#000000" stroke-width="1.5"/>
<rect x="680.45" y="292.96" width="3" height="4.24" fill="#000000" stroke="#000000" stroke-width="1"/>
<line x1="685.57" y1="287.58" x2="685.57" y2="305.92" stroke="#000000" stroke-width="1.5"/>
<rect x="684.27" y="292.88" width="2.6" height="6.39" fill="#000000"/>
<line x1="689.2" y1="286.06" x2="689.2" y2="302.19" stroke="#e0002a" stroke-width="1.5"/>
<rect x="687.7" y="293.49" width="3" height="7.73" fill="#e0002a" stroke="#e0002a" stroke-width="1"/>
<line x1="692.82" y1="316.9" x2="692.82" y2="346.85" stroke="#e0002a" stroke-width="1.5"/>
<rect x="691.52" y="316.4" width="2.6" height="29.87" fill="#e0002a"/>
<line x1="696.45" y1="318.06" x2="696.45" y2="338.4" stroke="#000000" stroke-width="1.5"/>
<rect x="694.95" y="336.09" width="3" height="2.31" fill="#fff" stroke="#000000" stroke-width="1"/>
<line x1="700.07" y1="330.87" x2="700.07" y2="349.49" stroke="#e0002a" stroke-width="1.5"/>
<rect x="698.77" y="337.1" width="2.6" height="6.17" fill="#e0002a"/>
<line x1="703.69" y1="313.58" x2="703.69" y2="338.87" stroke="#000000" stroke-width="1.5"/>
<rect x="702.19" y="313.86" width="3" height="24.87" fill="#fff" stroke="#000000" stroke-width="1"/>
<line x1="707.32" y1="251.78" x2="707.32" y2="280.41" stroke="#000000" stroke-width="1.5"/>
<rect x="705.82" y="254.61" width="3" height="25.8" fill="#fff" stroke="#000000" stroke-width="1"/>
<line x1="710.94" y1="232.8" x2="710.94" y2="247.36" stroke="#000000" stroke-width="1.5"/>
<rect x="709.64" y="236.56" width="2.6" height="11.3" fill="#000000"/>
<line x1="714.57" y1="221.48" x2="714.57" y2="235.6" stroke="#000000" stroke-width="1.5"/>
<rect x="713.07" y="228.16" width="3" height="7.44" fill="#fff" stroke="#000000" stroke-width="1"/>
<line x1="718.19" y1="219.57" x2="718.19" y2="231.67" stroke="#000000" stroke-width="1.5"/>
<rect x="716.89" y="222.4" width="2.6" height="3.97" fill="#000000"/>
<line x1="721.82" y1="222.48" x2="721.82" y2="242.23" stroke="#e0002a" stroke-width="1.5"/>
<rect x="720.32" y="224.98" width="3" height="7.76" fill="#e0002a" stroke="#e0002a" stroke-width="1"/>
<line x1="725.44" y1="223.17" x2="725.44" y2="239.91" stroke="#000000" stroke-width="1.5"/>
<rect x="724.14" y="231.54" width="2.6" height="2" fill="#000000"/>
<line x1="729.07" y1="228.82" x2="729.07" y2="249.32" stroke="#e0002a" stroke-width="1.5"/>
<rect x="727.57" y="230.49" width="3" height="16.08" fill="#e0002a" stroke="#e0002a" stroke-width="1"/>
<rect x="729.19" y="258.61" width="7" height="19.27" fill="#ffff33"/>
<line x1="732.69" y1="260.11" x2="732.69" y2="276.38" stroke="#e0002a" stroke-width="1.5"/>
<rect x="731.19" y="261.12" width="3" height="11.35" fill="#e0002a" stroke="#e0002a" stroke-width="1"/>
</g>
<clipPath id="cp"><rect x="46" y="209" width="767" height="485"/></clipPath>
<polyline clip-path="url(#cp)" points="47.36,731.06 50.98,727.67 54.61,724.81 58.23,720.76 61.86,716.94 65.48,713.44 69.11,709.87 72.73,706.24 76.36,701.96 79.98,696.75 83.6,691.43 87.23,686.85 90.85,682.75 94.48,677.96 98.1,673.89 101.73,669.87 105.35,665.21 108.98,660.47 112.6,655.59 116.23,651.61 119.85,647.96 123.47,644.09 127.1,639.85 130.72,635.47 134.35,631.48 137.97,627.64 141.6,624.42 145.22,620.64 148.85,615.88 152.47,611.95 156.09,609.08 159.72,605.96 163.34,603.72 166.97,601.3 170.59,598.93 174.22,596.82 177.84,595.21 181.47,592.38 185.09,590.96 188.72,590.59 192.34,590.06 195.96,589.53 199.59,589.19 203.21,590.57 206.84,591.47 210.46,591.46 214.09,591.53 217.71,591.78 221.34,591.74 224.96,591.98 228.58,593.08 232.21,593.77 235.83,594.24 239.46,594.58 243.08,593.92 246.71,593.12 250.33,592.97 253.96,592.41 257.58,591.58 261.21,590.38 264.83,589.26 268.45,587.76 272.08,586.93 275.7,586.22 279.33,585.37 282.95,584.18 286.58,583 290.2,582.77 293.83,582.19 297.45,581.48 301.07,580.78 304.7,580.5 308.32,579.01 311.95,578.1 315.57,577.08 319.2,575.43 322.82,573.23 326.45,571.54 330.07,568.83 333.7,565.25 337.32,561.04 340.94,556.37 344.57,551.6 348.19,545.87 351.82,540.49 355.44,535.95 359.07,531.53 362.69,527.04 366.32,522.9 369.94,518.86 373.56,513.86 377.19,508.94 380.81,504.37 384.44,500.14 388.06,496.19 391.69,491.99 395.31,487.74 398.94,483.74 402.56,479.21 406.19,475.22 409.81,471.18 413.43,467.65 417.06,463.6 420.68,460.49 424.31,457.91 427.93,455.91 431.56,453.11 435.18,449.98 438.81,448.66 442.43,447.64 446.06,445.56 449.68,443.09 453.3,441.37 456.93,438.79 460.55,437.11 464.18,437.19 467.8,438.99 471.43,440.15 475.05,441.89 478.68,442.5 482.3,443.33 485.92,444.3 489.55,444.27 493.17,444.46 496.8,443.85 500.42,442.98 504.05,441.42 507.67,439.81 511.3,438.17 514.92,437.17 518.54,435.53 522.17,433.84 525.79,432.22 529.42,431.32 533.04,430.73 536.67,429.85 540.29,430.33 543.92,430.94 547.54,432.35 551.17,434.25 554.79,435.8 558.41,437.27 562.04,438.49 565.66,438.41 569.29,437.53 572.91,436.15 576.54,435.39 580.16,434.71 583.79,431.62 587.41,428.36 591.03,425.57 594.66,422.68 598.28,419.61 601.91,417.22 605.53,414.1 609.16,409.66 612.78,404.08 616.41,399.09 620.03,393.78 623.66,389.2 627.28,385.48 630.9,381.19 634.53,377.42 638.15,374 641.78,371.15 645.4,367.94 649.03,365.77 652.65,363.2 656.28,360.89 659.9,357.82 663.52,355.53 667.15,353.08 670.77,351.29 674.4,349.03 678.02,346.78 681.65,344.96 685.27,341.8 688.9,338.76 692.52,336.67 696.15,333.35 699.77,330.86 703.39,327.89 707.02,324.03 710.64,320.15 714.27,316.35 717.89,312.58 721.52,309 725.14,305.24 728.77,302.84 732.39,300.98" fill="none" stroke="#27279e" stroke-width="1.6"/>
<polyline clip-path="url(#cp)" points="47.36,749.11 50.98,744.91 54.61,741.02 58.23,736.29 61.86,731.72 65.48,727.56 69.11,723.94 72.73,720.52 76.36,716.85 79.98,713 83.6,709.49 87.23,705.8 90.85,702.34 94.48,698.45 98.1,695.09 101.73,691.85 105.35,688.09 108.98,684.29 112.6,680.39 116.23,676.44 119.85,672.04 123.47,667.46 127.1,663.07 130.72,658.47 134.35,654.2 137.97,650.05 141.6,646.09 145.22,641.54 148.85,636.69 152.47,632.35 156.09,628.92 159.72,625.54 163.34,622.9 166.97,619.76 170.59,616.89 174.22,613.91 177.84,611.75 181.47,609.2 185.09,606.62 188.72,605.18 192.34,604.32 195.96,603.58 199.59,603.06 203.21,603.31 206.84,603.2 210.46,602.79 214.09,602.33 217.71,601.45 221.34,600.53 224.96,599.73 228.58,599.45 232.21,599.05 235.83,598.29 239.46,597.91 243.08,597.06 246.71,595.97 250.33,594.96 253.96,593.63 257.58,592.46 261.21,591.68 264.83,590.62 268.45,588.5 272.08,586.73 275.7,585.39 279.33,583.69 282.95,581.82 286.58,580.61 290.2,579.67 293.83,578.26 297.45,576.53 301.07,575.45 304.7,574.93 308.32,574.44 311.95,574.06 315.57,573.54 319.2,572.29 322.82,570.93 326.45,570.03 330.07,569.06 333.7,567.85 337.32,565.89 340.94,563.86 344.57,561.27 348.19,558.83 351.82,556.24 355.44,553.85 359.07,551.09 362.69,548.84 366.32,545.71 369.94,541.95 373.56,538.05 377.19,534.11 380.81,529.93 384.44,525.07 388.06,520.36 391.69,515.92 395.31,511.44 398.94,506.74 402.56,501.99 406.19,497.84 409.81,492.7 413.43,487.29 417.06,481.97 420.68,477.92 424.31,474.73 427.93,471.94 431.56,468.64 435.18,465.65 438.81,463.87 442.43,462.31 446.06,460.46 449.68,459.11 453.3,457.89 456.93,455.98 460.55,454.78 464.18,454.56 467.8,455.61 471.43,455.85 475.05,456.77 478.68,456.65 482.3,455.98 485.92,455.03 489.55,453.66 493.17,452.17 496.8,449.98 500.42,448.24 504.05,446.03 507.67,443.86 511.3,441.61 514.92,439.92 518.54,438.07 522.17,436.49 525.79,434.81 529.42,433.79 533.04,432.88 536.67,431.37 540.29,430.82 543.92,430.19 547.54,429.9 551.17,430.5 554.79,430.6 558.41,430.3 562.04,429.62 565.66,428.87 569.29,428.1 572.91,427.54 576.54,427.01 580.16,426.65 583.79,425.96 587.41,424.95 591.03,424.06 594.66,423.19 598.28,422.72 601.91,421.37 605.53,419.71 609.16,417.5 612.78,416.26 616.41,414.95 620.03,412.61 623.66,409.61 627.28,407.58 630.9,405.13 634.53,402.1 638.15,399.91 641.78,396.78 645.4,392.42 649.03,387.1 652.65,382.01 656.28,376.59 659.9,372 663.52,367.72 667.15,363.47 670.77,360.44 674.4,357.47 678.02,355.26 681.65,353.01 685.27,351.14 688.9,349.34 692.52,348.63 696.15,347.32 699.77,346.67 703.39,345.29 707.02,342.77 710.64,339.61 714.27,336.26 717.89,333.34 721.52,329.58 725.14,325.75 728.77,322.07 732.39,318.16" fill="none" stroke="#dc2848" stroke-width="1.6"/>
<rect x="46.5" y="209.5" width="767" height="485" fill="none" stroke="#b9b9b9" stroke-width="1"/>
<line x1="656.5" y1="274" x2="787.5" y2="274" stroke="#0e8e0e" stroke-width="2.6" stroke-dasharray="5.7,2.75"/>
<line x1="414.5" y1="361" x2="813" y2="221" stroke="#222" stroke-width="1.4"/>
<line x1="467" y1="603.5" x2="770.2" y2="189.6" stroke="#222" stroke-width="1.4"/>
<path d="M57.5,303.5 L358,303.5 L709.5,259 L366.5,311.5 L366.5,395.5 L57.5,395.5 Z" fill="#bdbdbd" stroke="none" opacity="0.85"/>
<path d="M54.5,300.5 L355,300.5 L706.5,256 L363.5,308.5 L363.5,392.5 L54.5,392.5 Z" fill="#ffffff" stroke="#666" stroke-width="1"/>
<text x="58.2" y="325.7" font-size="22" font-weight="bold" style="stroke-width:0" fill="#000" color="#000" textLength="282" lengthAdjust="spacingAndGlyphs">The triangle-vertex-based</text>
<text x="58.2" y="353.3" font-size="22" font-weight="bold" style="stroke-width:0" fill="#000" color="#000" textLength="266" lengthAdjust="spacingAndGlyphs">technique suggests that</text>
<text x="58.2" y="380.9" font-size="22" font-weight="bold" style="stroke-width:0" fill="#000" color="#000" textLength="213.3" lengthAdjust="spacingAndGlyphs">the top might be in.</text>
<rect x="53.5" y="173.5" width="294.5" height="34.7" fill="#c4c4c4"/>
<rect x="50.5" y="170.5" width="294" height="34.5" fill="#fff" stroke="#7c7c7c" stroke-width="1"/>
<rect x="121" y="205" width="11" height="3" fill="#9a9a9a"/>
<line x1="119.5" y1="170.5" x2="119.5" y2="205" stroke="#7c7c7c" stroke-width="1"/>
<text x="54.3" y="194.7" font-size="23" font-weight="bold" style="stroke-width:0" fill="#0a0af5" color="#0a0af5" textLength="60.7" lengthAdjust="spacingAndGlyphs">Stock</text>
<text x="123.6" y="194.7" font-size="23" font-weight="bold" style="stroke-width:0" fill="#000" color="#000" textLength="200" lengthAdjust="spacingAndGlyphs">PriceForecast.com</text>
<rect x="47" y="210" width="188" height="17" fill="#fff"/>
<rect x="47" y="227" width="116" height="30" fill="#fff"/>
<rect x="47" y="257" width="107" height="14" fill="#fff"/>
<line x1="51.5" y1="214" x2="51.5" y2="225" stroke="#111" stroke-width="1.2"/>
<rect x="49.5" y="216.5" width="4" height="5" fill="#111"/>
<line x1="58.5" y1="214" x2="58.5" y2="225" stroke="#111" stroke-width="1.2"/>
<rect x="56.5" y="215.5" width="4" height="8" fill="#fff" stroke="#111" stroke-width="1.2"/>
<rect x="57.2" y="218" width="2.6" height="5" fill="#111"/>
<text x="67.3" y="224.2" font-size="13" fill="#111" color="#111" textLength="165.9" style="stroke-width:0.1px" lengthAdjust="spacingAndGlyphs">$SPX (Daily) 5884.57</text>
<rect x="49.5" y="233" width="12.5" height="2.6" fill="#1c1c96"/>
<text x="64.6" y="239.7" font-size="13" fill="#1c1c96" color="#1c1c96" textLength="97.2" style="stroke-width:0.1px" lengthAdjust="spacingAndGlyphs">MA(40) 5814.24</text>
<rect x="49.5" y="248.6" width="12.5" height="2.6" fill="#d41a3e"/>
<text x="64.6" y="255.2" font-size="13" fill="#d41a3e" color="#d41a3e" textLength="96.6" style="stroke-width:0.1px" lengthAdjust="spacingAndGlyphs">MA(50) 5772.28</text>
<rect x="49.6" y="262.5" width="2" height="6" fill="#666"/>
<rect x="52.1" y="260.5" width="2" height="8" fill="#666"/>
<rect x="54.6" y="258.5" width="2" height="10" fill="#666"/>
<rect x="57.1" y="261.5" width="2" height="7" fill="#666"/>
<rect x="59.6" y="259.5" width="2" height="9" fill="#666"/>
<text x="65.5" y="268.5" font-size="13" fill="#555" color="#555" textLength="87.4" style="stroke-width:0.1px" lengthAdjust="spacingAndGlyphs">Volume undef</text>
<rect x="47" y="41" width="133" height="16" fill="#fff"/>
<path d="M50,54 L50,50 L52.5,44 L54.5,48 L56.5,45 L60,52 L61.5,54 Z" fill="#7aa57a" stroke="#2a3a2a" stroke-width="1"/>
<text x="66.6" y="54.8" font-size="13" fill="#111" color="#111" textLength="111.4" style="stroke-width:0.1px" lengthAdjust="spacingAndGlyphs">RSI(14) 53.52</text>
<text x="46" y="19" font-size="18" font-weight="bold" fill="#111" color="#111" textLength="46.4" lengthAdjust="spacingAndGlyphs">$SPX</text>
<text x="98.3" y="18.6" font-size="15" fill="#111" color="#111" textLength="172.6" lengthAdjust="spacingAndGlyphs">S&amp;P 500 Large Cap Index</text>
<text x="278.4" y="18.7" font-size="12" fill="#111" color="#111" textLength="33.6" lengthAdjust="spacingAndGlyphs">INDX</text>
<text x="687" y="18.2" font-size="14" fill="#3c3c3c" color="#3c3c3c" textLength="126" lengthAdjust="spacingAndGlyphs">©StockCharts.com</text>
<text x="45.7" y="36.7" font-size="13.5" fill="#111" color="#111" textLength="145.6" lengthAdjust="spacingAndGlyphs">15-Nov-2024 11:20am</text>
<text x="248.6" y="37" font-size="14" font-weight="bold" fill="#111" color="#111" textLength="41.4" lengthAdjust="spacingAndGlyphs">Open</text>
<text x="293" y="37" font-size="13"  fill="#111" color="#111" textLength="54.3" lengthAdjust="spacingAndGlyphs">5912.79</text>
<text x="356.6" y="37" font-size="14" font-weight="bold" fill="#111" color="#111" textLength="33.2" lengthAdjust="spacingAndGlyphs">High</text>
<text x="394.3" y="37" font-size="13"  fill="#111" color="#111" textLength="54.1" lengthAdjust="spacingAndGlyphs">5915.32</text>
<text x="458.4" y="37" font-size="14" font-weight="bold" fill="#111" color="#111" textLength="31.9" lengthAdjust="spacingAndGlyphs">Low</text>
<text x="496.2" y="37" font-size="13"  fill="#111" color="#111" textLength="54.2" lengthAdjust="spacingAndGlyphs">5874.87</text>
<text x="559.3" y="37" font-size="14" font-weight="bold" fill="#111" color="#111" textLength="33.4" lengthAdjust="spacingAndGlyphs">Last</text>
<text x="598" y="37" font-size="13"  fill="#111" color="#111" textLength="54.3" lengthAdjust="spacingAndGlyphs">5884.57</text>
<text x="662.2" y="37" font-size="14" font-weight="bold" fill="#111" color="#111" textLength="29.2" lengthAdjust="spacingAndGlyphs">Chg</text>
<text x="696.6" y="37" font-size="13"  fill="#111" color="#111" textLength="102.8" lengthAdjust="spacingAndGlyphs">-64.60 (-1.09%)</text>
<path d="M803.5,29.4 L813.2,29.4 L808.35,34.8 Z" fill="#a5002a"/>
<line x1="43" y1="672.5" x2="46" y2="672.5" stroke="#b9b9b9"/>
<text x="24.2" y="676.77" font-size="13.5" fill="#111" color="#111" textLength="16.6" lengthAdjust="spacingAndGlyphs">1B</text>
<line x1="43" y1="651.5" x2="46" y2="651.5" stroke="#b9b9b9"/>
<text x="24.2" y="655.64" font-size="13.5" fill="#111" color="#111" textLength="16.6" lengthAdjust="spacingAndGlyphs">2B</text>
<line x1="43" y1="630.5" x2="46" y2="630.5" stroke="#b9b9b9"/>
<text x="24.2" y="634.51" font-size="13.5" fill="#111" color="#111" textLength="16.6" lengthAdjust="spacingAndGlyphs">3B</text>
<line x1="43" y1="608.5" x2="46" y2="608.5" stroke="#b9b9b9"/>
<text x="24.2" y="613.38" font-size="13.5" fill="#111" color="#111" textLength="16.6" lengthAdjust="spacingAndGlyphs">4B</text>
<line x1="43" y1="587.5" x2="46" y2="587.5" stroke="#b9b9b9"/>
<text x="24.2" y="592.25" font-size="13.5" fill="#111" color="#111" textLength="16.6" lengthAdjust="spacingAndGlyphs">5B</text>
<line x1="43" y1="566.5" x2="46" y2="566.5" stroke="#b9b9b9"/>
<text x="24.2" y="571.12" font-size="13.5" fill="#111" color="#111" textLength="16.6" lengthAdjust="spacingAndGlyphs">6B</text>
<line x1="43" y1="545.5" x2="46" y2="545.5" stroke="#b9b9b9"/>
<text x="24.2" y="549.99" font-size="13.5" fill="#111" color="#111" textLength="16.6" lengthAdjust="spacingAndGlyphs">7B</text>
<line x1="79.8" y1="694" x2="79.8" y2="697" stroke="#b9b9b9"/>
<text x="67.25" y="708.5" font-size="13.5" fill="#111" color="#111" textLength="25.11" lengthAdjust="spacingAndGlyphs">Mar</text>
<line x1="153" y1="694" x2="153" y2="697" stroke="#b9b9b9"/>
<text x="141.66" y="708.5" font-size="13.5" fill="#111" color="#111" textLength="22.69" lengthAdjust="spacingAndGlyphs">Apr</text>
<line x1="232" y1="694" x2="232" y2="697" stroke="#b9b9b9"/>
<text x="218.23" y="708.5" font-size="13.5" fill="#111" color="#111" textLength="27.54" lengthAdjust="spacingAndGlyphs">May</text>
<line x1="312" y1="694" x2="312" y2="697" stroke="#b9b9b9"/>
<text x="300.25" y="708.5" font-size="13.5" fill="#111" color="#111" textLength="23.51" lengthAdjust="spacingAndGlyphs">Jun</text>
<line x1="381.6" y1="694" x2="381.6" y2="697" stroke="#b9b9b9"/>
<text x="372.28" y="708.5" font-size="13.5" fill="#111" color="#111" textLength="18.64" lengthAdjust="spacingAndGlyphs">Jul</text>
<line x1="460.7" y1="694" x2="460.7" y2="697" stroke="#b9b9b9"/>
<text x="447.73" y="708.5" font-size="13.5" fill="#111" color="#111" textLength="25.94" lengthAdjust="spacingAndGlyphs">Aug</text>
<line x1="541" y1="694" x2="541" y2="697" stroke="#b9b9b9"/>
<text x="528.03" y="708.5" font-size="13.5" fill="#111" color="#111" textLength="25.94" lengthAdjust="spacingAndGlyphs">Sep</text>
<line x1="613.2" y1="694" x2="613.2" y2="697" stroke="#b9b9b9"/>
<text x="601.86" y="708.5" font-size="13.5" fill="#111" color="#111" textLength="22.68" lengthAdjust="spacingAndGlyphs">Oct</text>
<line x1="696.5" y1="694" x2="696.5" y2="697" stroke="#b9b9b9"/>
<text x="683.54" y="708.5" font-size="13.5" fill="#111" color="#111" textLength="25.93" lengthAdjust="spacingAndGlyphs">Nov</text>
<line x1="769.9" y1="694" x2="769.9" y2="697" stroke="#b9b9b9"/>
<text x="756.94" y="708.5" font-size="13.5" fill="#111" color="#111" textLength="25.93" lengthAdjust="spacingAndGlyphs">Dec</text>
</svg></body></html>
